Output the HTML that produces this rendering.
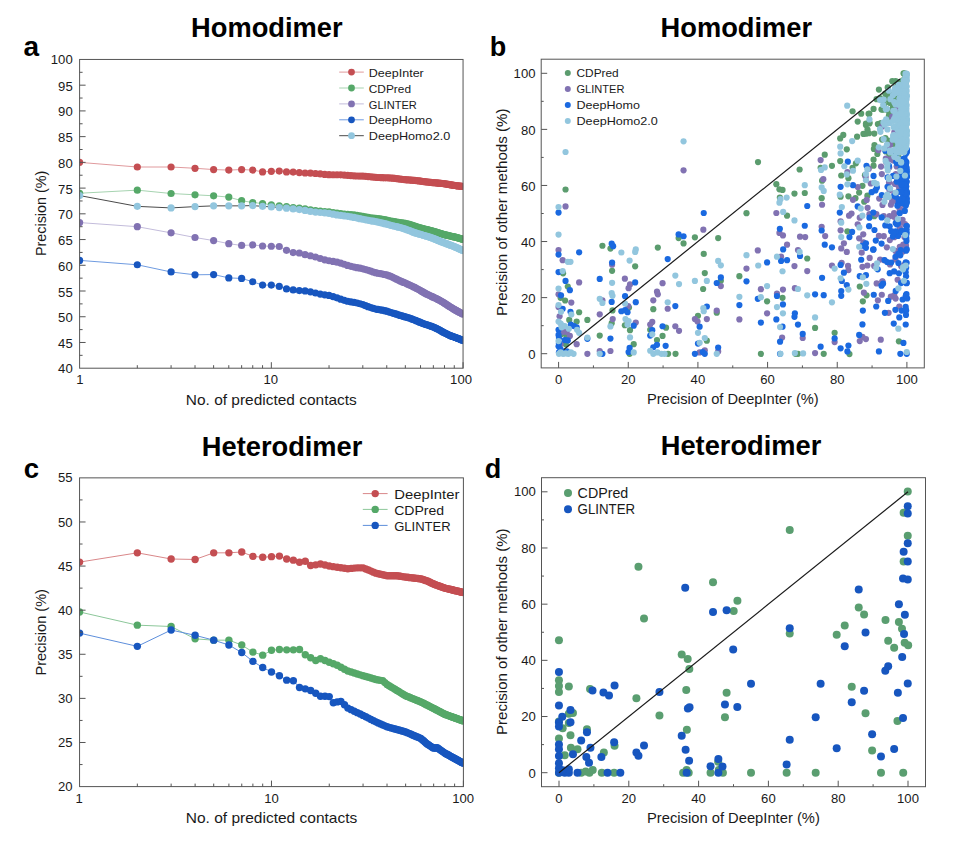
<!DOCTYPE html>
<html lang="en"><head><meta charset="utf-8"><title>Figure</title>
<style>html,body{margin:0;padding:0;background:#fff}svg{display:block}</style></head>
<body>
<svg width="971" height="856" viewBox="0 0 971 856" font-family="'Liberation Sans', Arial, Helvetica, sans-serif">
<rect width="971" height="856" fill="#ffffff"/>
<text x="266.8" y="36.9" font-size="28" text-anchor="middle" fill="#000" font-weight="bold" textLength="151.5" lengthAdjust="spacingAndGlyphs">Homodimer</text>
<text x="736.3" y="36.9" font-size="28" text-anchor="middle" fill="#000" font-weight="bold" textLength="151.5" lengthAdjust="spacingAndGlyphs">Homodimer</text>
<text x="282.1" y="455.7" font-size="27.5" text-anchor="middle" fill="#000" font-weight="bold" textLength="160.5" lengthAdjust="spacingAndGlyphs">Heterodimer</text>
<text x="741" y="454.6" font-size="27.5" text-anchor="middle" fill="#000" font-weight="bold" textLength="160.5" lengthAdjust="spacingAndGlyphs">Heterodimer</text>
<text x="23.5" y="55.8" font-size="28" text-anchor="start" fill="#000" font-weight="bold">a</text>
<text x="489.8" y="55.5" font-size="27" text-anchor="start" fill="#000" font-weight="bold">b</text>
<text x="23.8" y="477.9" font-size="27.5" text-anchor="start" fill="#000" font-weight="bold">c</text>
<text x="484.8" y="477.6" font-size="27" text-anchor="start" fill="#000" font-weight="bold">d</text>
<clipPath id="clipa"><rect x="79.6" y="59.45" width="383.45" height="308.75"/></clipPath>
<g clip-path="url(#clipa)">
<path d="M79.6 162.37 L137.31 167 L171.08 167 L195.03 168.28 L213.61 169.57 L228.79 170.09 L241.63 169.57 L252.74 170.09 L262.55 171.89 L271.33 171.37 L279.26 171.11 L286.51 171.89 L293.17 172.06 L299.34 172.62 L305.09 172.99 L310.46 173.22 L315.51 173.51 L320.27 173.95 L324.77 174.39 L329.04 174.67 L333.1 174.74 L336.98 174.76 L340.68 174.86 L344.22 175.08 L347.62 175.37 L350.89 175.65 L354.03 175.87 L357.06 176.01 L359.98 176.09 L362.8 176.18 L365.53 176.34 L368.17 176.55 L370.74 176.79 L373.22 177.05 L375.64 177.29 L377.98 177.48 L380.26 177.61 L382.48 177.69 L384.65 177.73 L386.75 177.76 L388.81 177.87 L390.82 178.01 L392.78 178.17 L394.69 178.37 L396.56 178.6 L398.39 178.83 L400.18 179.07 L401.94 179.29 L403.65 179.5 L405.34 179.67 L406.98 179.83 L408.6 179.97 L410.19 180.09 L411.74 180.21 L413.27 180.33 L414.77 180.46 L416.25 180.6 L417.69 180.75 L419.12 180.92 L420.52 181.1 L421.89 181.29 L423.25 181.48 L424.58 181.67 L425.89 181.85 L427.18 182.02 L428.45 182.18 L429.7 182.31 L430.94 182.43 L432.15 182.53 L433.35 182.62 L434.53 182.74 L435.7 182.85 L436.85 182.95 L437.98 183.05 L439.1 183.16 L440.2 183.26 L441.29 183.38 L442.36 183.5 L443.42 183.63 L444.47 183.77 L445.5 183.92 L446.53 184.08 L447.54 184.24 L448.53 184.41 L449.52 184.58 L450.49 184.74 L451.45 184.91 L452.41 185.07 L453.35 185.23 L454.28 185.38 L455.2 185.52 L456.11 185.65 L457.01 185.78 L457.9 185.89 L458.78 186 L459.65 186.11 L460.51 186.21 L461.37 186.31 L462.21 186.4 L463.05 186.5" fill="none" stroke="#e09a9d" stroke-width="1"/>
<g fill="#c44e52"><circle cx="79.6" cy="162.37" r="3.6"/><circle cx="137.31" cy="167" r="3.6"/><circle cx="171.08" cy="167" r="3.6"/><circle cx="195.03" cy="168.28" r="3.6"/><circle cx="213.61" cy="169.57" r="3.6"/><circle cx="228.79" cy="170.09" r="3.6"/><circle cx="241.63" cy="169.57" r="3.6"/><circle cx="252.74" cy="170.09" r="3.6"/><circle cx="262.55" cy="171.89" r="3.6"/><circle cx="271.33" cy="171.37" r="3.6"/><circle cx="279.26" cy="171.11" r="3.6"/><circle cx="286.51" cy="171.89" r="3.6"/><circle cx="293.17" cy="172.06" r="3.6"/><circle cx="299.34" cy="172.62" r="3.6"/><circle cx="305.09" cy="172.99" r="3.6"/><circle cx="310.46" cy="173.22" r="3.6"/><circle cx="315.51" cy="173.51" r="3.6"/><circle cx="320.27" cy="173.95" r="3.6"/><circle cx="324.77" cy="174.39" r="3.6"/><circle cx="329.04" cy="174.67" r="3.6"/><circle cx="333.1" cy="174.74" r="3.6"/><circle cx="336.98" cy="174.76" r="3.6"/><circle cx="340.68" cy="174.86" r="3.6"/><circle cx="344.22" cy="175.08" r="3.6"/><circle cx="347.62" cy="175.37" r="3.6"/><circle cx="350.89" cy="175.65" r="3.6"/><circle cx="354.03" cy="175.87" r="3.6"/><circle cx="357.06" cy="176.01" r="3.6"/><circle cx="359.98" cy="176.09" r="3.6"/><circle cx="362.8" cy="176.18" r="3.6"/><circle cx="365.53" cy="176.34" r="3.6"/><circle cx="368.17" cy="176.55" r="3.6"/><circle cx="370.74" cy="176.79" r="3.6"/><circle cx="373.22" cy="177.05" r="3.6"/><circle cx="375.64" cy="177.29" r="3.6"/><circle cx="377.98" cy="177.48" r="3.6"/><circle cx="380.26" cy="177.61" r="3.6"/><circle cx="382.48" cy="177.69" r="3.6"/><circle cx="384.65" cy="177.73" r="3.6"/><circle cx="386.75" cy="177.76" r="3.6"/><circle cx="388.81" cy="177.87" r="3.6"/><circle cx="390.82" cy="178.01" r="3.6"/><circle cx="392.78" cy="178.17" r="3.6"/><circle cx="394.69" cy="178.37" r="3.6"/><circle cx="396.56" cy="178.6" r="3.6"/><circle cx="398.39" cy="178.83" r="3.6"/><circle cx="400.18" cy="179.07" r="3.6"/><circle cx="401.94" cy="179.29" r="3.6"/><circle cx="403.65" cy="179.5" r="3.6"/><circle cx="405.34" cy="179.67" r="3.6"/><circle cx="406.98" cy="179.83" r="3.6"/><circle cx="408.6" cy="179.97" r="3.6"/><circle cx="410.19" cy="180.09" r="3.6"/><circle cx="411.74" cy="180.21" r="3.6"/><circle cx="413.27" cy="180.33" r="3.6"/><circle cx="414.77" cy="180.46" r="3.6"/><circle cx="416.25" cy="180.6" r="3.6"/><circle cx="417.69" cy="180.75" r="3.6"/><circle cx="419.12" cy="180.92" r="3.6"/><circle cx="420.52" cy="181.1" r="3.6"/><circle cx="421.89" cy="181.29" r="3.6"/><circle cx="423.25" cy="181.48" r="3.6"/><circle cx="424.58" cy="181.67" r="3.6"/><circle cx="425.89" cy="181.85" r="3.6"/><circle cx="427.18" cy="182.02" r="3.6"/><circle cx="428.45" cy="182.18" r="3.6"/><circle cx="429.7" cy="182.31" r="3.6"/><circle cx="430.94" cy="182.43" r="3.6"/><circle cx="432.15" cy="182.53" r="3.6"/><circle cx="433.35" cy="182.62" r="3.6"/><circle cx="434.53" cy="182.74" r="3.6"/><circle cx="435.7" cy="182.85" r="3.6"/><circle cx="436.85" cy="182.95" r="3.6"/><circle cx="437.98" cy="183.05" r="3.6"/><circle cx="439.1" cy="183.16" r="3.6"/><circle cx="440.2" cy="183.26" r="3.6"/><circle cx="441.29" cy="183.38" r="3.6"/><circle cx="442.36" cy="183.5" r="3.6"/><circle cx="443.42" cy="183.63" r="3.6"/><circle cx="444.47" cy="183.77" r="3.6"/><circle cx="445.5" cy="183.92" r="3.6"/><circle cx="446.53" cy="184.08" r="3.6"/><circle cx="447.54" cy="184.24" r="3.6"/><circle cx="448.53" cy="184.41" r="3.6"/><circle cx="449.52" cy="184.58" r="3.6"/><circle cx="450.49" cy="184.74" r="3.6"/><circle cx="451.45" cy="184.91" r="3.6"/><circle cx="452.41" cy="185.07" r="3.6"/><circle cx="453.35" cy="185.23" r="3.6"/><circle cx="454.28" cy="185.38" r="3.6"/><circle cx="455.2" cy="185.52" r="3.6"/><circle cx="456.11" cy="185.65" r="3.6"/><circle cx="457.01" cy="185.78" r="3.6"/><circle cx="457.9" cy="185.89" r="3.6"/><circle cx="458.78" cy="186" r="3.6"/><circle cx="459.65" cy="186.11" r="3.6"/><circle cx="460.51" cy="186.21" r="3.6"/><circle cx="461.37" cy="186.31" r="3.6"/><circle cx="462.21" cy="186.4" r="3.6"/><circle cx="463.05" cy="186.5" r="3.6"/></g>
<path d="M79.6 193.24 L137.31 190.15 L171.08 193.5 L195.03 194.79 L213.61 195.81 L228.79 197.1 L241.63 200.7 L252.74 202.5 L262.55 203.53 L271.33 204.82 L279.26 205.76 L286.51 206.62 L293.17 207.66 L299.34 208.21 L305.09 208.9 L310.46 209.75 L315.51 210.59 L320.27 211.17 L324.77 211.56 L329.04 211.96 L333.1 212.54 L336.98 213.16 L340.68 213.72 L344.22 214.13 L347.62 214.41 L350.89 214.66 L354.03 214.96 L357.06 215.36 L359.98 215.85 L362.8 216.37 L365.53 216.92 L368.17 217.39 L370.74 217.77 L373.22 218.09 L375.64 218.37 L377.98 218.65 L380.26 218.96 L382.48 219.31 L384.65 219.68 L386.75 220.07 L388.81 220.54 L390.82 220.98 L392.78 221.37 L394.69 221.72 L396.56 222.01 L398.39 222.28 L400.18 222.52 L401.94 222.77 L403.65 223.03 L405.34 223.31 L406.98 223.75 L408.6 224.22 L410.19 224.7 L411.74 225.2 L413.27 225.71 L414.77 226.2 L416.25 226.68 L417.69 227.13 L419.12 227.56 L420.52 227.96 L421.89 228.33 L423.25 228.68 L424.58 229.01 L425.89 229.33 L427.18 229.64 L428.45 229.96 L429.7 230.27 L430.94 230.6 L432.15 230.93 L433.35 231.27 L434.53 231.62 L435.7 231.97 L436.85 232.33 L437.98 232.68 L439.1 233.04 L440.2 233.38 L441.29 233.71 L442.36 234.03 L443.42 234.33 L444.47 234.62 L445.5 234.89 L446.53 235.15 L447.54 235.39 L448.53 235.63 L449.52 235.85 L450.49 236.06 L451.45 236.27 L452.41 236.48 L453.35 236.69 L454.28 236.91 L455.2 237.13 L456.11 237.35 L457.01 237.58 L457.9 237.82 L458.78 238.07 L459.65 238.32 L460.51 238.58 L461.37 238.85 L462.21 239.12 L463.05 239.39" fill="none" stroke="#a6d3b0" stroke-width="1"/>
<g fill="#55a868"><circle cx="79.6" cy="193.24" r="3.6"/><circle cx="137.31" cy="190.15" r="3.6"/><circle cx="171.08" cy="193.5" r="3.6"/><circle cx="195.03" cy="194.79" r="3.6"/><circle cx="213.61" cy="195.81" r="3.6"/><circle cx="228.79" cy="197.1" r="3.6"/><circle cx="241.63" cy="200.7" r="3.6"/><circle cx="252.74" cy="202.5" r="3.6"/><circle cx="262.55" cy="203.53" r="3.6"/><circle cx="271.33" cy="204.82" r="3.6"/><circle cx="279.26" cy="205.76" r="3.6"/><circle cx="286.51" cy="206.62" r="3.6"/><circle cx="293.17" cy="207.66" r="3.6"/><circle cx="299.34" cy="208.21" r="3.6"/><circle cx="305.09" cy="208.9" r="3.6"/><circle cx="310.46" cy="209.75" r="3.6"/><circle cx="315.51" cy="210.59" r="3.6"/><circle cx="320.27" cy="211.17" r="3.6"/><circle cx="324.77" cy="211.56" r="3.6"/><circle cx="329.04" cy="211.96" r="3.6"/><circle cx="333.1" cy="212.54" r="3.6"/><circle cx="336.98" cy="213.16" r="3.6"/><circle cx="340.68" cy="213.72" r="3.6"/><circle cx="344.22" cy="214.13" r="3.6"/><circle cx="347.62" cy="214.41" r="3.6"/><circle cx="350.89" cy="214.66" r="3.6"/><circle cx="354.03" cy="214.96" r="3.6"/><circle cx="357.06" cy="215.36" r="3.6"/><circle cx="359.98" cy="215.85" r="3.6"/><circle cx="362.8" cy="216.37" r="3.6"/><circle cx="365.53" cy="216.92" r="3.6"/><circle cx="368.17" cy="217.39" r="3.6"/><circle cx="370.74" cy="217.77" r="3.6"/><circle cx="373.22" cy="218.09" r="3.6"/><circle cx="375.64" cy="218.37" r="3.6"/><circle cx="377.98" cy="218.65" r="3.6"/><circle cx="380.26" cy="218.96" r="3.6"/><circle cx="382.48" cy="219.31" r="3.6"/><circle cx="384.65" cy="219.68" r="3.6"/><circle cx="386.75" cy="220.07" r="3.6"/><circle cx="388.81" cy="220.54" r="3.6"/><circle cx="390.82" cy="220.98" r="3.6"/><circle cx="392.78" cy="221.37" r="3.6"/><circle cx="394.69" cy="221.72" r="3.6"/><circle cx="396.56" cy="222.01" r="3.6"/><circle cx="398.39" cy="222.28" r="3.6"/><circle cx="400.18" cy="222.52" r="3.6"/><circle cx="401.94" cy="222.77" r="3.6"/><circle cx="403.65" cy="223.03" r="3.6"/><circle cx="405.34" cy="223.31" r="3.6"/><circle cx="406.98" cy="223.75" r="3.6"/><circle cx="408.6" cy="224.22" r="3.6"/><circle cx="410.19" cy="224.7" r="3.6"/><circle cx="411.74" cy="225.2" r="3.6"/><circle cx="413.27" cy="225.71" r="3.6"/><circle cx="414.77" cy="226.2" r="3.6"/><circle cx="416.25" cy="226.68" r="3.6"/><circle cx="417.69" cy="227.13" r="3.6"/><circle cx="419.12" cy="227.56" r="3.6"/><circle cx="420.52" cy="227.96" r="3.6"/><circle cx="421.89" cy="228.33" r="3.6"/><circle cx="423.25" cy="228.68" r="3.6"/><circle cx="424.58" cy="229.01" r="3.6"/><circle cx="425.89" cy="229.33" r="3.6"/><circle cx="427.18" cy="229.64" r="3.6"/><circle cx="428.45" cy="229.96" r="3.6"/><circle cx="429.7" cy="230.27" r="3.6"/><circle cx="430.94" cy="230.6" r="3.6"/><circle cx="432.15" cy="230.93" r="3.6"/><circle cx="433.35" cy="231.27" r="3.6"/><circle cx="434.53" cy="231.62" r="3.6"/><circle cx="435.7" cy="231.97" r="3.6"/><circle cx="436.85" cy="232.33" r="3.6"/><circle cx="437.98" cy="232.68" r="3.6"/><circle cx="439.1" cy="233.04" r="3.6"/><circle cx="440.2" cy="233.38" r="3.6"/><circle cx="441.29" cy="233.71" r="3.6"/><circle cx="442.36" cy="234.03" r="3.6"/><circle cx="443.42" cy="234.33" r="3.6"/><circle cx="444.47" cy="234.62" r="3.6"/><circle cx="445.5" cy="234.89" r="3.6"/><circle cx="446.53" cy="235.15" r="3.6"/><circle cx="447.54" cy="235.39" r="3.6"/><circle cx="448.53" cy="235.63" r="3.6"/><circle cx="449.52" cy="235.85" r="3.6"/><circle cx="450.49" cy="236.06" r="3.6"/><circle cx="451.45" cy="236.27" r="3.6"/><circle cx="452.41" cy="236.48" r="3.6"/><circle cx="453.35" cy="236.69" r="3.6"/><circle cx="454.28" cy="236.91" r="3.6"/><circle cx="455.2" cy="237.13" r="3.6"/><circle cx="456.11" cy="237.35" r="3.6"/><circle cx="457.01" cy="237.58" r="3.6"/><circle cx="457.9" cy="237.82" r="3.6"/><circle cx="458.78" cy="238.07" r="3.6"/><circle cx="459.65" cy="238.32" r="3.6"/><circle cx="460.51" cy="238.58" r="3.6"/><circle cx="461.37" cy="238.85" r="3.6"/><circle cx="462.21" cy="239.12" r="3.6"/><circle cx="463.05" cy="239.39" r="3.6"/></g>
<path d="M79.6 222.57 L137.31 226.69 L171.08 232.86 L195.03 237.5 L213.61 240.58 L228.79 243.67 L241.63 245.47 L252.74 244.96 L262.55 245.99 L271.33 246.24 L279.26 246.5 L286.51 250.36 L293.17 252.53 L299.34 253 L305.09 254.7 L310.46 255.74 L315.51 257 L320.27 258.52 L324.77 259.82 L329.04 260.75 L333.1 261.4 L336.98 262.13 L340.68 263.1 L344.22 264.25 L347.62 265.41 L350.89 266.36 L354.03 267.11 L357.06 267.69 L359.98 268.22 L362.8 268.79 L365.53 269.54 L368.17 270.36 L370.74 271.2 L373.22 271.98 L375.64 272.67 L377.98 273.24 L380.26 273.7 L382.48 274.09 L384.65 274.48 L386.75 274.89 L388.81 275.64 L390.82 276.45 L392.78 277.33 L394.69 278.24 L396.56 279.16 L398.39 280.05 L400.18 280.9 L401.94 281.69 L403.65 282.4 L405.34 283.06 L406.98 283.83 L408.6 284.57 L410.19 285.29 L411.74 286 L413.27 286.73 L414.77 287.47 L416.25 288.23 L417.69 289.02 L419.12 289.81 L420.52 290.6 L421.89 291.41 L423.25 292.19 L424.58 292.94 L425.89 293.66 L427.18 294.33 L428.45 294.97 L429.7 295.56 L430.94 296.12 L432.15 296.66 L433.35 297.17 L434.53 297.73 L435.7 298.29 L436.85 298.85 L437.98 299.42 L439.1 300.01 L440.2 300.61 L441.29 301.23 L442.36 301.86 L443.42 302.51 L444.47 303.17 L445.5 303.83 L446.53 304.5 L447.54 305.17 L448.53 305.83 L449.52 306.48 L450.49 307.11 L451.45 307.72 L452.41 308.31 L453.35 308.88 L454.28 309.43 L455.2 309.96 L456.11 310.47 L457.01 310.96 L457.9 311.43 L458.78 311.9 L459.65 312.35 L460.51 312.79 L461.37 313.23 L462.21 313.67 L463.05 314.12" fill="none" stroke="#c3bcdb" stroke-width="1"/>
<g fill="#8172b2"><circle cx="79.6" cy="222.57" r="3.6"/><circle cx="137.31" cy="226.69" r="3.6"/><circle cx="171.08" cy="232.86" r="3.6"/><circle cx="195.03" cy="237.5" r="3.6"/><circle cx="213.61" cy="240.58" r="3.6"/><circle cx="228.79" cy="243.67" r="3.6"/><circle cx="241.63" cy="245.47" r="3.6"/><circle cx="252.74" cy="244.96" r="3.6"/><circle cx="262.55" cy="245.99" r="3.6"/><circle cx="271.33" cy="246.24" r="3.6"/><circle cx="279.26" cy="246.5" r="3.6"/><circle cx="286.51" cy="250.36" r="3.6"/><circle cx="293.17" cy="252.53" r="3.6"/><circle cx="299.34" cy="253" r="3.6"/><circle cx="305.09" cy="254.7" r="3.6"/><circle cx="310.46" cy="255.74" r="3.6"/><circle cx="315.51" cy="257" r="3.6"/><circle cx="320.27" cy="258.52" r="3.6"/><circle cx="324.77" cy="259.82" r="3.6"/><circle cx="329.04" cy="260.75" r="3.6"/><circle cx="333.1" cy="261.4" r="3.6"/><circle cx="336.98" cy="262.13" r="3.6"/><circle cx="340.68" cy="263.1" r="3.6"/><circle cx="344.22" cy="264.25" r="3.6"/><circle cx="347.62" cy="265.41" r="3.6"/><circle cx="350.89" cy="266.36" r="3.6"/><circle cx="354.03" cy="267.11" r="3.6"/><circle cx="357.06" cy="267.69" r="3.6"/><circle cx="359.98" cy="268.22" r="3.6"/><circle cx="362.8" cy="268.79" r="3.6"/><circle cx="365.53" cy="269.54" r="3.6"/><circle cx="368.17" cy="270.36" r="3.6"/><circle cx="370.74" cy="271.2" r="3.6"/><circle cx="373.22" cy="271.98" r="3.6"/><circle cx="375.64" cy="272.67" r="3.6"/><circle cx="377.98" cy="273.24" r="3.6"/><circle cx="380.26" cy="273.7" r="3.6"/><circle cx="382.48" cy="274.09" r="3.6"/><circle cx="384.65" cy="274.48" r="3.6"/><circle cx="386.75" cy="274.89" r="3.6"/><circle cx="388.81" cy="275.64" r="3.6"/><circle cx="390.82" cy="276.45" r="3.6"/><circle cx="392.78" cy="277.33" r="3.6"/><circle cx="394.69" cy="278.24" r="3.6"/><circle cx="396.56" cy="279.16" r="3.6"/><circle cx="398.39" cy="280.05" r="3.6"/><circle cx="400.18" cy="280.9" r="3.6"/><circle cx="401.94" cy="281.69" r="3.6"/><circle cx="403.65" cy="282.4" r="3.6"/><circle cx="405.34" cy="283.06" r="3.6"/><circle cx="406.98" cy="283.83" r="3.6"/><circle cx="408.6" cy="284.57" r="3.6"/><circle cx="410.19" cy="285.29" r="3.6"/><circle cx="411.74" cy="286" r="3.6"/><circle cx="413.27" cy="286.73" r="3.6"/><circle cx="414.77" cy="287.47" r="3.6"/><circle cx="416.25" cy="288.23" r="3.6"/><circle cx="417.69" cy="289.02" r="3.6"/><circle cx="419.12" cy="289.81" r="3.6"/><circle cx="420.52" cy="290.6" r="3.6"/><circle cx="421.89" cy="291.41" r="3.6"/><circle cx="423.25" cy="292.19" r="3.6"/><circle cx="424.58" cy="292.94" r="3.6"/><circle cx="425.89" cy="293.66" r="3.6"/><circle cx="427.18" cy="294.33" r="3.6"/><circle cx="428.45" cy="294.97" r="3.6"/><circle cx="429.7" cy="295.56" r="3.6"/><circle cx="430.94" cy="296.12" r="3.6"/><circle cx="432.15" cy="296.66" r="3.6"/><circle cx="433.35" cy="297.17" r="3.6"/><circle cx="434.53" cy="297.73" r="3.6"/><circle cx="435.7" cy="298.29" r="3.6"/><circle cx="436.85" cy="298.85" r="3.6"/><circle cx="437.98" cy="299.42" r="3.6"/><circle cx="439.1" cy="300.01" r="3.6"/><circle cx="440.2" cy="300.61" r="3.6"/><circle cx="441.29" cy="301.23" r="3.6"/><circle cx="442.36" cy="301.86" r="3.6"/><circle cx="443.42" cy="302.51" r="3.6"/><circle cx="444.47" cy="303.17" r="3.6"/><circle cx="445.5" cy="303.83" r="3.6"/><circle cx="446.53" cy="304.5" r="3.6"/><circle cx="447.54" cy="305.17" r="3.6"/><circle cx="448.53" cy="305.83" r="3.6"/><circle cx="449.52" cy="306.48" r="3.6"/><circle cx="450.49" cy="307.11" r="3.6"/><circle cx="451.45" cy="307.72" r="3.6"/><circle cx="452.41" cy="308.31" r="3.6"/><circle cx="453.35" cy="308.88" r="3.6"/><circle cx="454.28" cy="309.43" r="3.6"/><circle cx="455.2" cy="309.96" r="3.6"/><circle cx="456.11" cy="310.47" r="3.6"/><circle cx="457.01" cy="310.96" r="3.6"/><circle cx="457.9" cy="311.43" r="3.6"/><circle cx="458.78" cy="311.9" r="3.6"/><circle cx="459.65" cy="312.35" r="3.6"/><circle cx="460.51" cy="312.79" r="3.6"/><circle cx="461.37" cy="313.23" r="3.6"/><circle cx="462.21" cy="313.67" r="3.6"/><circle cx="463.05" cy="314.12" r="3.6"/></g>
<path d="M79.6 260.39 L137.31 264.77 L171.08 271.97 L195.03 274.8 L213.61 274.55 L228.79 277.89 L241.63 278.41 L252.74 281.75 L262.55 285.09 L271.33 285.09 L279.26 286.38 L286.51 288.95 L293.17 289.95 L299.34 290.61 L305.09 290.96 L310.46 291.82 L315.51 293 L320.27 294.1 L324.77 294.85 L329.04 295.46 L333.1 296.55 L336.98 297.84 L340.68 299.17 L344.22 300.34 L347.62 301.23 L350.89 301.88 L354.03 302.43 L357.06 303.02 L359.98 303.75 L362.8 304.59 L365.53 305.63 L368.17 306.64 L370.74 307.56 L373.22 308.35 L375.64 309.04 L377.98 309.41 L380.26 309.78 L382.48 310.19 L384.65 310.66 L386.75 311.21 L388.81 311.85 L390.82 312.5 L392.78 313.12 L394.69 313.68 L396.56 314.16 L398.39 314.83 L400.18 315.42 L401.94 315.95 L403.65 316.44 L405.34 316.92 L406.98 317.37 L408.6 317.85 L410.19 318.36 L411.74 318.91 L413.27 319.49 L414.77 320.1 L416.25 320.71 L417.69 321.32 L419.12 321.9 L420.52 322.46 L421.89 323.03 L423.25 323.55 L424.58 324.04 L425.89 324.49 L427.18 324.93 L428.45 325.34 L429.7 325.75 L430.94 326.16 L432.15 326.57 L433.35 327 L434.53 327.55 L435.7 328.1 L436.85 328.68 L437.98 329.27 L439.1 329.86 L440.2 330.47 L441.29 331.07 L442.36 331.66 L443.42 332.24 L444.47 332.8 L445.5 333.34 L446.53 333.86 L447.54 334.35 L448.53 334.81 L449.52 335.24 L450.49 335.65 L451.45 336.03 L452.41 336.4 L453.35 336.75 L454.28 337.09 L455.2 337.42 L456.11 337.75 L457.01 338.08 L457.9 338.41 L458.78 338.75 L459.65 339.1 L460.51 339.46 L461.37 339.82 L462.21 340.2 L463.05 340.59" fill="none" stroke="#6f9be0" stroke-width="1"/>
<g fill="#1756bf"><circle cx="79.6" cy="260.39" r="3.6"/><circle cx="137.31" cy="264.77" r="3.6"/><circle cx="171.08" cy="271.97" r="3.6"/><circle cx="195.03" cy="274.8" r="3.6"/><circle cx="213.61" cy="274.55" r="3.6"/><circle cx="228.79" cy="277.89" r="3.6"/><circle cx="241.63" cy="278.41" r="3.6"/><circle cx="252.74" cy="281.75" r="3.6"/><circle cx="262.55" cy="285.09" r="3.6"/><circle cx="271.33" cy="285.09" r="3.6"/><circle cx="279.26" cy="286.38" r="3.6"/><circle cx="286.51" cy="288.95" r="3.6"/><circle cx="293.17" cy="289.95" r="3.6"/><circle cx="299.34" cy="290.61" r="3.6"/><circle cx="305.09" cy="290.96" r="3.6"/><circle cx="310.46" cy="291.82" r="3.6"/><circle cx="315.51" cy="293" r="3.6"/><circle cx="320.27" cy="294.1" r="3.6"/><circle cx="324.77" cy="294.85" r="3.6"/><circle cx="329.04" cy="295.46" r="3.6"/><circle cx="333.1" cy="296.55" r="3.6"/><circle cx="336.98" cy="297.84" r="3.6"/><circle cx="340.68" cy="299.17" r="3.6"/><circle cx="344.22" cy="300.34" r="3.6"/><circle cx="347.62" cy="301.23" r="3.6"/><circle cx="350.89" cy="301.88" r="3.6"/><circle cx="354.03" cy="302.43" r="3.6"/><circle cx="357.06" cy="303.02" r="3.6"/><circle cx="359.98" cy="303.75" r="3.6"/><circle cx="362.8" cy="304.59" r="3.6"/><circle cx="365.53" cy="305.63" r="3.6"/><circle cx="368.17" cy="306.64" r="3.6"/><circle cx="370.74" cy="307.56" r="3.6"/><circle cx="373.22" cy="308.35" r="3.6"/><circle cx="375.64" cy="309.04" r="3.6"/><circle cx="377.98" cy="309.41" r="3.6"/><circle cx="380.26" cy="309.78" r="3.6"/><circle cx="382.48" cy="310.19" r="3.6"/><circle cx="384.65" cy="310.66" r="3.6"/><circle cx="386.75" cy="311.21" r="3.6"/><circle cx="388.81" cy="311.85" r="3.6"/><circle cx="390.82" cy="312.5" r="3.6"/><circle cx="392.78" cy="313.12" r="3.6"/><circle cx="394.69" cy="313.68" r="3.6"/><circle cx="396.56" cy="314.16" r="3.6"/><circle cx="398.39" cy="314.83" r="3.6"/><circle cx="400.18" cy="315.42" r="3.6"/><circle cx="401.94" cy="315.95" r="3.6"/><circle cx="403.65" cy="316.44" r="3.6"/><circle cx="405.34" cy="316.92" r="3.6"/><circle cx="406.98" cy="317.37" r="3.6"/><circle cx="408.6" cy="317.85" r="3.6"/><circle cx="410.19" cy="318.36" r="3.6"/><circle cx="411.74" cy="318.91" r="3.6"/><circle cx="413.27" cy="319.49" r="3.6"/><circle cx="414.77" cy="320.1" r="3.6"/><circle cx="416.25" cy="320.71" r="3.6"/><circle cx="417.69" cy="321.32" r="3.6"/><circle cx="419.12" cy="321.9" r="3.6"/><circle cx="420.52" cy="322.46" r="3.6"/><circle cx="421.89" cy="323.03" r="3.6"/><circle cx="423.25" cy="323.55" r="3.6"/><circle cx="424.58" cy="324.04" r="3.6"/><circle cx="425.89" cy="324.49" r="3.6"/><circle cx="427.18" cy="324.93" r="3.6"/><circle cx="428.45" cy="325.34" r="3.6"/><circle cx="429.7" cy="325.75" r="3.6"/><circle cx="430.94" cy="326.16" r="3.6"/><circle cx="432.15" cy="326.57" r="3.6"/><circle cx="433.35" cy="327" r="3.6"/><circle cx="434.53" cy="327.55" r="3.6"/><circle cx="435.7" cy="328.1" r="3.6"/><circle cx="436.85" cy="328.68" r="3.6"/><circle cx="437.98" cy="329.27" r="3.6"/><circle cx="439.1" cy="329.86" r="3.6"/><circle cx="440.2" cy="330.47" r="3.6"/><circle cx="441.29" cy="331.07" r="3.6"/><circle cx="442.36" cy="331.66" r="3.6"/><circle cx="443.42" cy="332.24" r="3.6"/><circle cx="444.47" cy="332.8" r="3.6"/><circle cx="445.5" cy="333.34" r="3.6"/><circle cx="446.53" cy="333.86" r="3.6"/><circle cx="447.54" cy="334.35" r="3.6"/><circle cx="448.53" cy="334.81" r="3.6"/><circle cx="449.52" cy="335.24" r="3.6"/><circle cx="450.49" cy="335.65" r="3.6"/><circle cx="451.45" cy="336.03" r="3.6"/><circle cx="452.41" cy="336.4" r="3.6"/><circle cx="453.35" cy="336.75" r="3.6"/><circle cx="454.28" cy="337.09" r="3.6"/><circle cx="455.2" cy="337.42" r="3.6"/><circle cx="456.11" cy="337.75" r="3.6"/><circle cx="457.01" cy="338.08" r="3.6"/><circle cx="457.9" cy="338.41" r="3.6"/><circle cx="458.78" cy="338.75" r="3.6"/><circle cx="459.65" cy="339.1" r="3.6"/><circle cx="460.51" cy="339.46" r="3.6"/><circle cx="461.37" cy="339.82" r="3.6"/><circle cx="462.21" cy="340.2" r="3.6"/><circle cx="463.05" cy="340.59" r="3.6"/></g>
<path d="M79.6 195.56 L137.31 206.36 L171.08 207.91 L195.03 206.62 L213.61 205.85 L228.79 205.85 L241.63 205.85 L252.74 205.59 L262.55 206.36 L271.33 206.88 L279.26 207.55 L286.51 208.16 L293.17 208.93 L299.34 209.56 L305.09 210.46 L310.46 211.43 L315.51 212.1 L320.27 212.5 L324.77 212.88 L329.04 213.4 L333.1 214.17 L336.98 214.89 L340.68 215.47 L344.22 215.93 L347.62 216.36 L350.89 216.85 L354.03 217.42 L357.06 218.06 L359.98 218.69 L362.8 219.25 L365.53 219.86 L368.17 220.36 L370.74 220.79 L373.22 221.19 L375.64 221.61 L377.98 222.07 L380.26 222.57 L382.48 223.1 L384.65 223.64 L386.75 224.15 L388.81 224.75 L390.82 225.3 L392.78 225.81 L394.69 226.27 L396.56 226.72 L398.39 227.16 L400.18 227.61 L401.94 228.09 L403.65 228.58 L405.34 229.1 L406.98 229.73 L408.6 230.35 L410.19 230.97 L411.74 231.57 L413.27 232.14 L414.77 232.67 L416.25 233.17 L417.69 233.63 L419.12 234.07 L420.52 234.47 L421.89 234.86 L423.25 235.24 L424.58 235.61 L425.89 235.99 L427.18 236.38 L428.45 236.77 L429.7 237.17 L430.94 237.59 L432.15 238.01 L433.35 238.43 L434.53 238.94 L435.7 239.44 L436.85 239.93 L437.98 240.41 L439.1 240.88 L440.2 241.33 L441.29 241.76 L442.36 242.18 L443.42 242.58 L444.47 242.97 L445.5 243.34 L446.53 243.71 L447.54 244.07 L448.53 244.43 L449.52 244.78 L450.49 245.14 L451.45 245.5 L452.41 245.87 L453.35 246.25 L454.28 246.62 L455.2 247.01 L456.11 247.4 L457.01 247.79 L457.9 248.19 L458.78 248.59 L459.65 248.99 L460.51 249.38 L461.37 249.77 L462.21 250.16 L463.05 250.54" fill="none" stroke="#4a4a4a" stroke-width="1"/>
<g fill="#92c6de"><circle cx="79.6" cy="195.56" r="3.6"/><circle cx="137.31" cy="206.36" r="3.6"/><circle cx="171.08" cy="207.91" r="3.6"/><circle cx="195.03" cy="206.62" r="3.6"/><circle cx="213.61" cy="205.85" r="3.6"/><circle cx="228.79" cy="205.85" r="3.6"/><circle cx="241.63" cy="205.85" r="3.6"/><circle cx="252.74" cy="205.59" r="3.6"/><circle cx="262.55" cy="206.36" r="3.6"/><circle cx="271.33" cy="206.88" r="3.6"/><circle cx="279.26" cy="207.55" r="3.6"/><circle cx="286.51" cy="208.16" r="3.6"/><circle cx="293.17" cy="208.93" r="3.6"/><circle cx="299.34" cy="209.56" r="3.6"/><circle cx="305.09" cy="210.46" r="3.6"/><circle cx="310.46" cy="211.43" r="3.6"/><circle cx="315.51" cy="212.1" r="3.6"/><circle cx="320.27" cy="212.5" r="3.6"/><circle cx="324.77" cy="212.88" r="3.6"/><circle cx="329.04" cy="213.4" r="3.6"/><circle cx="333.1" cy="214.17" r="3.6"/><circle cx="336.98" cy="214.89" r="3.6"/><circle cx="340.68" cy="215.47" r="3.6"/><circle cx="344.22" cy="215.93" r="3.6"/><circle cx="347.62" cy="216.36" r="3.6"/><circle cx="350.89" cy="216.85" r="3.6"/><circle cx="354.03" cy="217.42" r="3.6"/><circle cx="357.06" cy="218.06" r="3.6"/><circle cx="359.98" cy="218.69" r="3.6"/><circle cx="362.8" cy="219.25" r="3.6"/><circle cx="365.53" cy="219.86" r="3.6"/><circle cx="368.17" cy="220.36" r="3.6"/><circle cx="370.74" cy="220.79" r="3.6"/><circle cx="373.22" cy="221.19" r="3.6"/><circle cx="375.64" cy="221.61" r="3.6"/><circle cx="377.98" cy="222.07" r="3.6"/><circle cx="380.26" cy="222.57" r="3.6"/><circle cx="382.48" cy="223.1" r="3.6"/><circle cx="384.65" cy="223.64" r="3.6"/><circle cx="386.75" cy="224.15" r="3.6"/><circle cx="388.81" cy="224.75" r="3.6"/><circle cx="390.82" cy="225.3" r="3.6"/><circle cx="392.78" cy="225.81" r="3.6"/><circle cx="394.69" cy="226.27" r="3.6"/><circle cx="396.56" cy="226.72" r="3.6"/><circle cx="398.39" cy="227.16" r="3.6"/><circle cx="400.18" cy="227.61" r="3.6"/><circle cx="401.94" cy="228.09" r="3.6"/><circle cx="403.65" cy="228.58" r="3.6"/><circle cx="405.34" cy="229.1" r="3.6"/><circle cx="406.98" cy="229.73" r="3.6"/><circle cx="408.6" cy="230.35" r="3.6"/><circle cx="410.19" cy="230.97" r="3.6"/><circle cx="411.74" cy="231.57" r="3.6"/><circle cx="413.27" cy="232.14" r="3.6"/><circle cx="414.77" cy="232.67" r="3.6"/><circle cx="416.25" cy="233.17" r="3.6"/><circle cx="417.69" cy="233.63" r="3.6"/><circle cx="419.12" cy="234.07" r="3.6"/><circle cx="420.52" cy="234.47" r="3.6"/><circle cx="421.89" cy="234.86" r="3.6"/><circle cx="423.25" cy="235.24" r="3.6"/><circle cx="424.58" cy="235.61" r="3.6"/><circle cx="425.89" cy="235.99" r="3.6"/><circle cx="427.18" cy="236.38" r="3.6"/><circle cx="428.45" cy="236.77" r="3.6"/><circle cx="429.7" cy="237.17" r="3.6"/><circle cx="430.94" cy="237.59" r="3.6"/><circle cx="432.15" cy="238.01" r="3.6"/><circle cx="433.35" cy="238.43" r="3.6"/><circle cx="434.53" cy="238.94" r="3.6"/><circle cx="435.7" cy="239.44" r="3.6"/><circle cx="436.85" cy="239.93" r="3.6"/><circle cx="437.98" cy="240.41" r="3.6"/><circle cx="439.1" cy="240.88" r="3.6"/><circle cx="440.2" cy="241.33" r="3.6"/><circle cx="441.29" cy="241.76" r="3.6"/><circle cx="442.36" cy="242.18" r="3.6"/><circle cx="443.42" cy="242.58" r="3.6"/><circle cx="444.47" cy="242.97" r="3.6"/><circle cx="445.5" cy="243.34" r="3.6"/><circle cx="446.53" cy="243.71" r="3.6"/><circle cx="447.54" cy="244.07" r="3.6"/><circle cx="448.53" cy="244.43" r="3.6"/><circle cx="449.52" cy="244.78" r="3.6"/><circle cx="450.49" cy="245.14" r="3.6"/><circle cx="451.45" cy="245.5" r="3.6"/><circle cx="452.41" cy="245.87" r="3.6"/><circle cx="453.35" cy="246.25" r="3.6"/><circle cx="454.28" cy="246.62" r="3.6"/><circle cx="455.2" cy="247.01" r="3.6"/><circle cx="456.11" cy="247.4" r="3.6"/><circle cx="457.01" cy="247.79" r="3.6"/><circle cx="457.9" cy="248.19" r="3.6"/><circle cx="458.78" cy="248.59" r="3.6"/><circle cx="459.65" cy="248.99" r="3.6"/><circle cx="460.51" cy="249.38" r="3.6"/><circle cx="461.37" cy="249.77" r="3.6"/><circle cx="462.21" cy="250.16" r="3.6"/><circle cx="463.05" cy="250.54" r="3.6"/></g>
</g>
<rect x="79.6" y="59.45" width="383.45" height="308.75" fill="none" stroke="#555555" stroke-width="1"/>
<text x="72.7" y="373.1" font-size="12.3" text-anchor="end" fill="#1a1a1a" textLength="14.6" lengthAdjust="spacingAndGlyphs">40</text>
<line x1="79.6" y1="355.34" x2="82.6" y2="355.34" stroke="#555555" stroke-width="1"/>
<line x1="79.6" y1="342.47" x2="85.6" y2="342.47" stroke="#555555" stroke-width="1"/>
<text x="72.7" y="347.97" font-size="12.3" text-anchor="end" fill="#1a1a1a" textLength="14.6" lengthAdjust="spacingAndGlyphs">45</text>
<line x1="79.6" y1="329.61" x2="82.6" y2="329.61" stroke="#555555" stroke-width="1"/>
<line x1="79.6" y1="316.74" x2="85.6" y2="316.74" stroke="#555555" stroke-width="1"/>
<text x="72.7" y="322.24" font-size="12.3" text-anchor="end" fill="#1a1a1a" textLength="14.6" lengthAdjust="spacingAndGlyphs">50</text>
<line x1="79.6" y1="303.88" x2="82.6" y2="303.88" stroke="#555555" stroke-width="1"/>
<line x1="79.6" y1="291.01" x2="85.6" y2="291.01" stroke="#555555" stroke-width="1"/>
<text x="72.7" y="296.51" font-size="12.3" text-anchor="end" fill="#1a1a1a" textLength="14.6" lengthAdjust="spacingAndGlyphs">55</text>
<line x1="79.6" y1="278.15" x2="82.6" y2="278.15" stroke="#555555" stroke-width="1"/>
<line x1="79.6" y1="265.28" x2="85.6" y2="265.28" stroke="#555555" stroke-width="1"/>
<text x="72.7" y="270.78" font-size="12.3" text-anchor="end" fill="#1a1a1a" textLength="14.6" lengthAdjust="spacingAndGlyphs">60</text>
<line x1="79.6" y1="252.42" x2="82.6" y2="252.42" stroke="#555555" stroke-width="1"/>
<line x1="79.6" y1="239.55" x2="85.6" y2="239.55" stroke="#555555" stroke-width="1"/>
<text x="72.7" y="245.05" font-size="12.3" text-anchor="end" fill="#1a1a1a" textLength="14.6" lengthAdjust="spacingAndGlyphs">65</text>
<line x1="79.6" y1="226.69" x2="82.6" y2="226.69" stroke="#555555" stroke-width="1"/>
<line x1="79.6" y1="213.82" x2="85.6" y2="213.82" stroke="#555555" stroke-width="1"/>
<text x="72.7" y="219.32" font-size="12.3" text-anchor="end" fill="#1a1a1a" textLength="14.6" lengthAdjust="spacingAndGlyphs">70</text>
<line x1="79.6" y1="200.96" x2="82.6" y2="200.96" stroke="#555555" stroke-width="1"/>
<line x1="79.6" y1="188.1" x2="85.6" y2="188.1" stroke="#555555" stroke-width="1"/>
<text x="72.7" y="193.6" font-size="12.3" text-anchor="end" fill="#1a1a1a" textLength="14.6" lengthAdjust="spacingAndGlyphs">75</text>
<line x1="79.6" y1="175.23" x2="82.6" y2="175.23" stroke="#555555" stroke-width="1"/>
<line x1="79.6" y1="162.37" x2="85.6" y2="162.37" stroke="#555555" stroke-width="1"/>
<text x="72.7" y="167.87" font-size="12.3" text-anchor="end" fill="#1a1a1a" textLength="14.6" lengthAdjust="spacingAndGlyphs">80</text>
<line x1="79.6" y1="149.5" x2="82.6" y2="149.5" stroke="#555555" stroke-width="1"/>
<line x1="79.6" y1="136.64" x2="85.6" y2="136.64" stroke="#555555" stroke-width="1"/>
<text x="72.7" y="142.14" font-size="12.3" text-anchor="end" fill="#1a1a1a" textLength="14.6" lengthAdjust="spacingAndGlyphs">85</text>
<line x1="79.6" y1="123.77" x2="82.6" y2="123.77" stroke="#555555" stroke-width="1"/>
<line x1="79.6" y1="110.91" x2="85.6" y2="110.91" stroke="#555555" stroke-width="1"/>
<text x="72.7" y="116.41" font-size="12.3" text-anchor="end" fill="#1a1a1a" textLength="14.6" lengthAdjust="spacingAndGlyphs">90</text>
<line x1="79.6" y1="98.04" x2="82.6" y2="98.04" stroke="#555555" stroke-width="1"/>
<line x1="79.6" y1="85.18" x2="85.6" y2="85.18" stroke="#555555" stroke-width="1"/>
<text x="72.7" y="90.68" font-size="12.3" text-anchor="end" fill="#1a1a1a" textLength="14.6" lengthAdjust="spacingAndGlyphs">95</text>
<line x1="79.6" y1="72.31" x2="82.6" y2="72.31" stroke="#555555" stroke-width="1"/>
<text x="72.7" y="63.85" font-size="12.3" text-anchor="end" fill="#1a1a1a" textLength="21.9" lengthAdjust="spacingAndGlyphs">100</text>
<line x1="137.31" y1="368.2" x2="137.31" y2="365.2" stroke="#555555" stroke-width="1"/>
<line x1="171.08" y1="368.2" x2="171.08" y2="365.2" stroke="#555555" stroke-width="1"/>
<line x1="195.03" y1="368.2" x2="195.03" y2="365.2" stroke="#555555" stroke-width="1"/>
<line x1="213.61" y1="368.2" x2="213.61" y2="365.2" stroke="#555555" stroke-width="1"/>
<line x1="228.79" y1="368.2" x2="228.79" y2="365.2" stroke="#555555" stroke-width="1"/>
<line x1="241.63" y1="368.2" x2="241.63" y2="365.2" stroke="#555555" stroke-width="1"/>
<line x1="252.74" y1="368.2" x2="252.74" y2="365.2" stroke="#555555" stroke-width="1"/>
<line x1="262.55" y1="368.2" x2="262.55" y2="365.2" stroke="#555555" stroke-width="1"/>
<line x1="271.33" y1="368.2" x2="271.33" y2="362.2" stroke="#555555" stroke-width="1"/>
<line x1="329.04" y1="368.2" x2="329.04" y2="365.2" stroke="#555555" stroke-width="1"/>
<line x1="362.8" y1="368.2" x2="362.8" y2="365.2" stroke="#555555" stroke-width="1"/>
<line x1="386.75" y1="368.2" x2="386.75" y2="365.2" stroke="#555555" stroke-width="1"/>
<line x1="405.34" y1="368.2" x2="405.34" y2="365.2" stroke="#555555" stroke-width="1"/>
<line x1="420.52" y1="368.2" x2="420.52" y2="365.2" stroke="#555555" stroke-width="1"/>
<line x1="433.35" y1="368.2" x2="433.35" y2="365.2" stroke="#555555" stroke-width="1"/>
<line x1="444.47" y1="368.2" x2="444.47" y2="365.2" stroke="#555555" stroke-width="1"/>
<line x1="454.28" y1="368.2" x2="454.28" y2="365.2" stroke="#555555" stroke-width="1"/>
<line x1="463.05" y1="368.2" x2="463.05" y2="362.2" stroke="#555555" stroke-width="1"/>
<text x="79.9" y="384.1" font-size="12.3" text-anchor="middle" fill="#1a1a1a" textLength="7.3" lengthAdjust="spacingAndGlyphs">1</text>
<text x="270.83" y="384.1" font-size="12.3" text-anchor="middle" fill="#1a1a1a" textLength="14.6" lengthAdjust="spacingAndGlyphs">10</text>
<text x="461.05" y="384.1" font-size="12.3" text-anchor="middle" fill="#1a1a1a" textLength="21.9" lengthAdjust="spacingAndGlyphs">100</text>
<line x1="339.2" y1="72.1" x2="363.8" y2="72.1" stroke="#e09a9d" stroke-width="1"/>
<circle cx="351.5" cy="72.1" r="3.4" fill="#c44e52"/>
<text x="368.8" y="76.7" font-size="11.8" text-anchor="start" fill="#1a1a1a" textLength="55" lengthAdjust="spacingAndGlyphs">DeepInter</text>
<line x1="339.2" y1="88" x2="363.8" y2="88" stroke="#a6d3b0" stroke-width="1"/>
<circle cx="351.5" cy="88" r="3.4" fill="#55a868"/>
<text x="368.8" y="92.6" font-size="11.8" text-anchor="start" fill="#1a1a1a" textLength="42.2" lengthAdjust="spacingAndGlyphs">CDPred</text>
<line x1="339.2" y1="103.9" x2="363.8" y2="103.9" stroke="#c3bcdb" stroke-width="1"/>
<circle cx="351.5" cy="103.9" r="3.4" fill="#8172b2"/>
<text x="368.8" y="108.5" font-size="11.8" text-anchor="start" fill="#1a1a1a" textLength="48" lengthAdjust="spacingAndGlyphs">GLINTER</text>
<line x1="339.2" y1="119.8" x2="363.8" y2="119.8" stroke="#6f9be0" stroke-width="1"/>
<circle cx="351.5" cy="119.8" r="3.4" fill="#1756bf"/>
<text x="368.8" y="124.4" font-size="11.8" text-anchor="start" fill="#1a1a1a" textLength="63.3" lengthAdjust="spacingAndGlyphs">DeepHomo</text>
<line x1="339.2" y1="135.7" x2="363.8" y2="135.7" stroke="#4a4a4a" stroke-width="1"/>
<circle cx="351.5" cy="135.7" r="3.4" fill="#92c6de"/>
<text x="368.8" y="140.3" font-size="11.8" text-anchor="start" fill="#1a1a1a" textLength="81.4" lengthAdjust="spacingAndGlyphs">DeepHomo2.0</text>
<text x="271.3" y="404.5" font-size="14.4" text-anchor="middle" fill="#1a1a1a" textLength="171" lengthAdjust="spacingAndGlyphs">No. of predicted contacts</text>
<text x="46.2" y="213.4" font-size="14.4" text-anchor="middle" fill="#1a1a1a" textLength="85.3" lengthAdjust="spacingAndGlyphs" transform="rotate(-90 46.2 213.4)">Precision (%)</text>
<clipPath id="clipc"><rect x="79.56" y="477.86" width="383.84" height="308.74"/></clipPath>
<g clip-path="url(#clipc)">
<path d="M79.56 562.1 L137.33 552.84 L171.13 559.01 L195.11 559.46 L213.71 552.84 L228.9 552.84 L241.75 551.96 L252.88 556.37 L262.7 557.25 L271.48 556.63 L279.42 556.1 L286.68 559.01 L293.35 560.16 L299.52 562.19 L305.28 561.31 L310.65 565.45 L315.71 564.84 L320.47 563.95 L324.98 565.04 L329.25 566.07 L333.32 566.65 L337.2 567.2 L340.9 567.73 L344.45 568.23 L347.85 568.72 L351.12 568.41 L354.27 568.12 L357.3 567.84 L360.22 567.84 L363.05 567.84 L365.78 568.96 L368.43 570.05 L370.99 571.11 L373.48 572.13 L375.9 573.13 L378.25 573.69 L380.53 574.23 L382.75 574.76 L384.92 575.27 L387.03 575.77 L389.09 575.77 L391.09 575.77 L393.06 575.77 L394.97 575.77 L396.84 575.77 L398.68 576.05 L400.47 576.32 L402.22 576.59 L403.94 576.84 L405.63 577.1 L407.28 577.29 L408.9 577.48 L410.48 577.66 L412.04 577.84 L413.57 578.02 L415.07 578.19 L416.55 578.37 L418 578.53 L419.42 578.7 L420.82 578.86 L422.2 579.32 L423.56 579.77 L424.89 580.21 L426.2 580.64 L427.49 581.07 L428.77 581.69 L430.02 582.29 L431.26 582.89 L432.47 583.48 L433.67 584.07 L434.85 584.5 L436.02 584.92 L437.17 585.34 L438.3 585.76 L439.42 586.16 L440.53 586.57 L441.62 586.96 L442.69 587.35 L443.75 587.74 L444.8 588.12 L445.84 588.37 L446.86 588.61 L447.87 588.85 L448.87 589.09 L449.85 589.32 L450.83 589.55 L451.79 589.78 L452.75 590.01 L453.69 590.23 L454.62 590.45 L455.54 590.67 L456.45 590.89 L457.35 591.1 L458.24 591.31 L459.12 591.52 L460 591.73 L460.86 591.93 L461.72 592.14 L462.56 592.34 L463.4 592.53" fill="none" stroke="#d98789" stroke-width="1"/>
<g fill="#c44e52"><circle cx="79.56" cy="562.1" r="3.7"/><circle cx="137.33" cy="552.84" r="3.7"/><circle cx="171.13" cy="559.01" r="3.7"/><circle cx="195.11" cy="559.46" r="3.7"/><circle cx="213.71" cy="552.84" r="3.7"/><circle cx="228.9" cy="552.84" r="3.7"/><circle cx="241.75" cy="551.96" r="3.7"/><circle cx="252.88" cy="556.37" r="3.7"/><circle cx="262.7" cy="557.25" r="3.7"/><circle cx="271.48" cy="556.63" r="3.7"/><circle cx="279.42" cy="556.1" r="3.7"/><circle cx="286.68" cy="559.01" r="3.7"/><circle cx="293.35" cy="560.16" r="3.7"/><circle cx="299.52" cy="562.19" r="3.7"/><circle cx="305.28" cy="561.31" r="3.7"/><circle cx="310.65" cy="565.45" r="3.7"/><circle cx="315.71" cy="564.84" r="3.7"/><circle cx="320.47" cy="563.95" r="3.7"/><circle cx="324.98" cy="565.04" r="3.7"/><circle cx="329.25" cy="566.07" r="3.7"/><circle cx="333.32" cy="566.65" r="3.7"/><circle cx="337.2" cy="567.2" r="3.7"/><circle cx="340.9" cy="567.73" r="3.7"/><circle cx="344.45" cy="568.23" r="3.7"/><circle cx="347.85" cy="568.72" r="3.7"/><circle cx="351.12" cy="568.41" r="3.7"/><circle cx="354.27" cy="568.12" r="3.7"/><circle cx="357.3" cy="567.84" r="3.7"/><circle cx="360.22" cy="567.84" r="3.7"/><circle cx="363.05" cy="567.84" r="3.7"/><circle cx="365.78" cy="568.96" r="3.7"/><circle cx="368.43" cy="570.05" r="3.7"/><circle cx="370.99" cy="571.11" r="3.7"/><circle cx="373.48" cy="572.13" r="3.7"/><circle cx="375.9" cy="573.13" r="3.7"/><circle cx="378.25" cy="573.69" r="3.7"/><circle cx="380.53" cy="574.23" r="3.7"/><circle cx="382.75" cy="574.76" r="3.7"/><circle cx="384.92" cy="575.27" r="3.7"/><circle cx="387.03" cy="575.77" r="3.7"/><circle cx="389.09" cy="575.77" r="3.7"/><circle cx="391.09" cy="575.77" r="3.7"/><circle cx="393.06" cy="575.77" r="3.7"/><circle cx="394.97" cy="575.77" r="3.7"/><circle cx="396.84" cy="575.77" r="3.7"/><circle cx="398.68" cy="576.05" r="3.7"/><circle cx="400.47" cy="576.32" r="3.7"/><circle cx="402.22" cy="576.59" r="3.7"/><circle cx="403.94" cy="576.84" r="3.7"/><circle cx="405.63" cy="577.1" r="3.7"/><circle cx="407.28" cy="577.29" r="3.7"/><circle cx="408.9" cy="577.48" r="3.7"/><circle cx="410.48" cy="577.66" r="3.7"/><circle cx="412.04" cy="577.84" r="3.7"/><circle cx="413.57" cy="578.02" r="3.7"/><circle cx="415.07" cy="578.19" r="3.7"/><circle cx="416.55" cy="578.37" r="3.7"/><circle cx="418" cy="578.53" r="3.7"/><circle cx="419.42" cy="578.7" r="3.7"/><circle cx="420.82" cy="578.86" r="3.7"/><circle cx="422.2" cy="579.32" r="3.7"/><circle cx="423.56" cy="579.77" r="3.7"/><circle cx="424.89" cy="580.21" r="3.7"/><circle cx="426.2" cy="580.64" r="3.7"/><circle cx="427.49" cy="581.07" r="3.7"/><circle cx="428.77" cy="581.69" r="3.7"/><circle cx="430.02" cy="582.29" r="3.7"/><circle cx="431.26" cy="582.89" r="3.7"/><circle cx="432.47" cy="583.48" r="3.7"/><circle cx="433.67" cy="584.07" r="3.7"/><circle cx="434.85" cy="584.5" r="3.7"/><circle cx="436.02" cy="584.92" r="3.7"/><circle cx="437.17" cy="585.34" r="3.7"/><circle cx="438.3" cy="585.76" r="3.7"/><circle cx="439.42" cy="586.16" r="3.7"/><circle cx="440.53" cy="586.57" r="3.7"/><circle cx="441.62" cy="586.96" r="3.7"/><circle cx="442.69" cy="587.35" r="3.7"/><circle cx="443.75" cy="587.74" r="3.7"/><circle cx="444.8" cy="588.12" r="3.7"/><circle cx="445.84" cy="588.37" r="3.7"/><circle cx="446.86" cy="588.61" r="3.7"/><circle cx="447.87" cy="588.85" r="3.7"/><circle cx="448.87" cy="589.09" r="3.7"/><circle cx="449.85" cy="589.32" r="3.7"/><circle cx="450.83" cy="589.55" r="3.7"/><circle cx="451.79" cy="589.78" r="3.7"/><circle cx="452.75" cy="590.01" r="3.7"/><circle cx="453.69" cy="590.23" r="3.7"/><circle cx="454.62" cy="590.45" r="3.7"/><circle cx="455.54" cy="590.67" r="3.7"/><circle cx="456.45" cy="590.89" r="3.7"/><circle cx="457.35" cy="591.1" r="3.7"/><circle cx="458.24" cy="591.31" r="3.7"/><circle cx="459.12" cy="591.52" r="3.7"/><circle cx="460" cy="591.73" r="3.7"/><circle cx="460.86" cy="591.93" r="3.7"/><circle cx="461.72" cy="592.14" r="3.7"/><circle cx="462.56" cy="592.34" r="3.7"/><circle cx="463.4" cy="592.53" r="3.7"/></g>
<path d="M79.56 611.94 L137.33 625.17 L171.13 626.5 L195.11 638.85 L213.71 640.17 L228.9 640.17 L241.75 645.02 L252.88 652.08 L262.7 655.16 L271.48 650.31 L279.42 649.43 L286.68 649.87 L293.35 649.87 L299.52 649.43 L305.28 654.72 L310.65 657.81 L315.71 660.46 L320.47 658.69 L324.98 660.5 L329.25 662.22 L333.32 663.76 L337.2 665.22 L340.9 667.25 L344.45 669.18 L347.85 671.04 L351.12 672.05 L354.27 673.02 L357.3 673.95 L360.22 674.85 L363.05 675.72 L365.78 676.53 L368.43 677.31 L370.99 678.06 L373.48 678.8 L375.9 679.51 L378.25 679.93 L380.53 680.35 L382.75 680.75 L384.92 682.62 L387.03 684.45 L389.09 685.7 L391.09 686.92 L393.06 688.11 L394.97 689.27 L396.84 690.41 L398.68 691.52 L400.47 692.61 L402.22 693.68 L403.94 694.72 L405.63 695.74 L407.28 696.41 L408.9 697.07 L410.48 697.72 L412.04 698.35 L413.57 698.97 L415.07 699.58 L416.55 700.18 L418 700.77 L419.42 701.35 L420.82 701.92 L422.2 702.62 L423.56 703.31 L424.89 703.98 L426.2 704.65 L427.49 705.31 L428.77 705.95 L430.02 706.59 L431.26 707.22 L432.47 707.84 L433.67 708.44 L434.85 709.06 L436.02 709.67 L437.17 710.27 L438.3 710.87 L439.42 711.45 L440.53 712.03 L441.62 712.6 L442.69 713.16 L443.75 713.72 L444.8 714.27 L445.84 714.64 L446.86 715.01 L447.87 715.37 L448.87 715.73 L449.85 716.09 L450.83 716.44 L451.79 716.79 L452.75 717.13 L453.69 717.47 L454.62 717.81 L455.54 718.14 L456.45 718.47 L457.35 718.79 L458.24 719.11 L459.12 719.43 L460 719.74 L460.86 720.06 L461.72 720.36 L462.56 720.67 L463.4 720.97" fill="none" stroke="#8cc79a" stroke-width="1"/>
<g fill="#55a868"><circle cx="79.56" cy="611.94" r="3.7"/><circle cx="137.33" cy="625.17" r="3.7"/><circle cx="171.13" cy="626.5" r="3.7"/><circle cx="195.11" cy="638.85" r="3.7"/><circle cx="213.71" cy="640.17" r="3.7"/><circle cx="228.9" cy="640.17" r="3.7"/><circle cx="241.75" cy="645.02" r="3.7"/><circle cx="252.88" cy="652.08" r="3.7"/><circle cx="262.7" cy="655.16" r="3.7"/><circle cx="271.48" cy="650.31" r="3.7"/><circle cx="279.42" cy="649.43" r="3.7"/><circle cx="286.68" cy="649.87" r="3.7"/><circle cx="293.35" cy="649.87" r="3.7"/><circle cx="299.52" cy="649.43" r="3.7"/><circle cx="305.28" cy="654.72" r="3.7"/><circle cx="310.65" cy="657.81" r="3.7"/><circle cx="315.71" cy="660.46" r="3.7"/><circle cx="320.47" cy="658.69" r="3.7"/><circle cx="324.98" cy="660.5" r="3.7"/><circle cx="329.25" cy="662.22" r="3.7"/><circle cx="333.32" cy="663.76" r="3.7"/><circle cx="337.2" cy="665.22" r="3.7"/><circle cx="340.9" cy="667.25" r="3.7"/><circle cx="344.45" cy="669.18" r="3.7"/><circle cx="347.85" cy="671.04" r="3.7"/><circle cx="351.12" cy="672.05" r="3.7"/><circle cx="354.27" cy="673.02" r="3.7"/><circle cx="357.3" cy="673.95" r="3.7"/><circle cx="360.22" cy="674.85" r="3.7"/><circle cx="363.05" cy="675.72" r="3.7"/><circle cx="365.78" cy="676.53" r="3.7"/><circle cx="368.43" cy="677.31" r="3.7"/><circle cx="370.99" cy="678.06" r="3.7"/><circle cx="373.48" cy="678.8" r="3.7"/><circle cx="375.9" cy="679.51" r="3.7"/><circle cx="378.25" cy="679.93" r="3.7"/><circle cx="380.53" cy="680.35" r="3.7"/><circle cx="382.75" cy="680.75" r="3.7"/><circle cx="384.92" cy="682.62" r="3.7"/><circle cx="387.03" cy="684.45" r="3.7"/><circle cx="389.09" cy="685.7" r="3.7"/><circle cx="391.09" cy="686.92" r="3.7"/><circle cx="393.06" cy="688.11" r="3.7"/><circle cx="394.97" cy="689.27" r="3.7"/><circle cx="396.84" cy="690.41" r="3.7"/><circle cx="398.68" cy="691.52" r="3.7"/><circle cx="400.47" cy="692.61" r="3.7"/><circle cx="402.22" cy="693.68" r="3.7"/><circle cx="403.94" cy="694.72" r="3.7"/><circle cx="405.63" cy="695.74" r="3.7"/><circle cx="407.28" cy="696.41" r="3.7"/><circle cx="408.9" cy="697.07" r="3.7"/><circle cx="410.48" cy="697.72" r="3.7"/><circle cx="412.04" cy="698.35" r="3.7"/><circle cx="413.57" cy="698.97" r="3.7"/><circle cx="415.07" cy="699.58" r="3.7"/><circle cx="416.55" cy="700.18" r="3.7"/><circle cx="418" cy="700.77" r="3.7"/><circle cx="419.42" cy="701.35" r="3.7"/><circle cx="420.82" cy="701.92" r="3.7"/><circle cx="422.2" cy="702.62" r="3.7"/><circle cx="423.56" cy="703.31" r="3.7"/><circle cx="424.89" cy="703.98" r="3.7"/><circle cx="426.2" cy="704.65" r="3.7"/><circle cx="427.49" cy="705.31" r="3.7"/><circle cx="428.77" cy="705.95" r="3.7"/><circle cx="430.02" cy="706.59" r="3.7"/><circle cx="431.26" cy="707.22" r="3.7"/><circle cx="432.47" cy="707.84" r="3.7"/><circle cx="433.67" cy="708.44" r="3.7"/><circle cx="434.85" cy="709.06" r="3.7"/><circle cx="436.02" cy="709.67" r="3.7"/><circle cx="437.17" cy="710.27" r="3.7"/><circle cx="438.3" cy="710.87" r="3.7"/><circle cx="439.42" cy="711.45" r="3.7"/><circle cx="440.53" cy="712.03" r="3.7"/><circle cx="441.62" cy="712.6" r="3.7"/><circle cx="442.69" cy="713.16" r="3.7"/><circle cx="443.75" cy="713.72" r="3.7"/><circle cx="444.8" cy="714.27" r="3.7"/><circle cx="445.84" cy="714.64" r="3.7"/><circle cx="446.86" cy="715.01" r="3.7"/><circle cx="447.87" cy="715.37" r="3.7"/><circle cx="448.87" cy="715.73" r="3.7"/><circle cx="449.85" cy="716.09" r="3.7"/><circle cx="450.83" cy="716.44" r="3.7"/><circle cx="451.79" cy="716.79" r="3.7"/><circle cx="452.75" cy="717.13" r="3.7"/><circle cx="453.69" cy="717.47" r="3.7"/><circle cx="454.62" cy="717.81" r="3.7"/><circle cx="455.54" cy="718.14" r="3.7"/><circle cx="456.45" cy="718.47" r="3.7"/><circle cx="457.35" cy="718.79" r="3.7"/><circle cx="458.24" cy="719.11" r="3.7"/><circle cx="459.12" cy="719.43" r="3.7"/><circle cx="460" cy="719.74" r="3.7"/><circle cx="460.86" cy="720.06" r="3.7"/><circle cx="461.72" cy="720.36" r="3.7"/><circle cx="462.56" cy="720.67" r="3.7"/><circle cx="463.4" cy="720.97" r="3.7"/></g>
<path d="M79.56 633.11 L137.33 646.34 L171.13 630.02 L195.11 635.32 L213.71 640.17 L228.9 645.02 L241.75 652.52 L252.88 661.34 L262.7 667.51 L271.48 671.93 L279.42 675.72 L286.68 680.13 L293.35 680.75 L299.52 687.45 L305.28 688.86 L310.65 690.45 L315.71 693.27 L320.47 696.18 L324.98 696.18 L329.25 696.62 L333.32 702.8 L337.2 701.92 L340.9 701.39 L344.45 704.81 L347.85 708.09 L351.12 709.67 L354.27 711.18 L357.3 712.64 L360.22 714.05 L363.05 715.41 L365.78 716.78 L368.43 718.11 L370.99 719.39 L373.48 720.64 L375.9 721.85 L378.25 722.89 L380.53 723.91 L382.75 724.9 L384.92 725.86 L387.03 726.79 L389.09 727.36 L391.09 727.91 L393.06 728.45 L394.97 728.98 L396.84 729.49 L398.68 730 L400.47 730.49 L402.22 730.97 L403.94 731.45 L405.63 731.91 L407.28 732.64 L408.9 733.36 L410.48 734.07 L412.04 734.76 L413.57 735.44 L415.07 736.06 L416.55 736.67 L418 737.27 L419.42 737.86 L420.82 738.44 L422.2 739.64 L423.56 740.82 L424.89 741.99 L426.2 743.13 L427.49 744.26 L428.77 745.06 L430.02 745.85 L431.26 746.62 L432.47 747.39 L433.67 748.14 L434.85 748.02 L436.02 747.9 L437.17 747.79 L438.3 748.57 L439.42 749.35 L440.53 750.11 L441.62 750.87 L442.69 751.62 L443.75 752.35 L444.8 753.08 L445.84 753.65 L446.86 754.21 L447.87 754.77 L448.87 755.32 L449.85 755.86 L450.83 756.4 L451.79 756.93 L452.75 757.45 L453.69 757.97 L454.62 758.48 L455.54 758.99 L456.45 759.49 L457.35 759.98 L458.24 760.47 L459.12 760.96 L460 761.44 L460.86 761.92 L461.72 762.39 L462.56 762.85 L463.4 763.31" fill="none" stroke="#5d8edb" stroke-width="1"/>
<g fill="#1756bf"><circle cx="79.56" cy="633.11" r="3.7"/><circle cx="137.33" cy="646.34" r="3.7"/><circle cx="171.13" cy="630.02" r="3.7"/><circle cx="195.11" cy="635.32" r="3.7"/><circle cx="213.71" cy="640.17" r="3.7"/><circle cx="228.9" cy="645.02" r="3.7"/><circle cx="241.75" cy="652.52" r="3.7"/><circle cx="252.88" cy="661.34" r="3.7"/><circle cx="262.7" cy="667.51" r="3.7"/><circle cx="271.48" cy="671.93" r="3.7"/><circle cx="279.42" cy="675.72" r="3.7"/><circle cx="286.68" cy="680.13" r="3.7"/><circle cx="293.35" cy="680.75" r="3.7"/><circle cx="299.52" cy="687.45" r="3.7"/><circle cx="305.28" cy="688.86" r="3.7"/><circle cx="310.65" cy="690.45" r="3.7"/><circle cx="315.71" cy="693.27" r="3.7"/><circle cx="320.47" cy="696.18" r="3.7"/><circle cx="324.98" cy="696.18" r="3.7"/><circle cx="329.25" cy="696.62" r="3.7"/><circle cx="333.32" cy="702.8" r="3.7"/><circle cx="337.2" cy="701.92" r="3.7"/><circle cx="340.9" cy="701.39" r="3.7"/><circle cx="344.45" cy="704.81" r="3.7"/><circle cx="347.85" cy="708.09" r="3.7"/><circle cx="351.12" cy="709.67" r="3.7"/><circle cx="354.27" cy="711.18" r="3.7"/><circle cx="357.3" cy="712.64" r="3.7"/><circle cx="360.22" cy="714.05" r="3.7"/><circle cx="363.05" cy="715.41" r="3.7"/><circle cx="365.78" cy="716.78" r="3.7"/><circle cx="368.43" cy="718.11" r="3.7"/><circle cx="370.99" cy="719.39" r="3.7"/><circle cx="373.48" cy="720.64" r="3.7"/><circle cx="375.9" cy="721.85" r="3.7"/><circle cx="378.25" cy="722.89" r="3.7"/><circle cx="380.53" cy="723.91" r="3.7"/><circle cx="382.75" cy="724.9" r="3.7"/><circle cx="384.92" cy="725.86" r="3.7"/><circle cx="387.03" cy="726.79" r="3.7"/><circle cx="389.09" cy="727.36" r="3.7"/><circle cx="391.09" cy="727.91" r="3.7"/><circle cx="393.06" cy="728.45" r="3.7"/><circle cx="394.97" cy="728.98" r="3.7"/><circle cx="396.84" cy="729.49" r="3.7"/><circle cx="398.68" cy="730" r="3.7"/><circle cx="400.47" cy="730.49" r="3.7"/><circle cx="402.22" cy="730.97" r="3.7"/><circle cx="403.94" cy="731.45" r="3.7"/><circle cx="405.63" cy="731.91" r="3.7"/><circle cx="407.28" cy="732.64" r="3.7"/><circle cx="408.9" cy="733.36" r="3.7"/><circle cx="410.48" cy="734.07" r="3.7"/><circle cx="412.04" cy="734.76" r="3.7"/><circle cx="413.57" cy="735.44" r="3.7"/><circle cx="415.07" cy="736.06" r="3.7"/><circle cx="416.55" cy="736.67" r="3.7"/><circle cx="418" cy="737.27" r="3.7"/><circle cx="419.42" cy="737.86" r="3.7"/><circle cx="420.82" cy="738.44" r="3.7"/><circle cx="422.2" cy="739.64" r="3.7"/><circle cx="423.56" cy="740.82" r="3.7"/><circle cx="424.89" cy="741.99" r="3.7"/><circle cx="426.2" cy="743.13" r="3.7"/><circle cx="427.49" cy="744.26" r="3.7"/><circle cx="428.77" cy="745.06" r="3.7"/><circle cx="430.02" cy="745.85" r="3.7"/><circle cx="431.26" cy="746.62" r="3.7"/><circle cx="432.47" cy="747.39" r="3.7"/><circle cx="433.67" cy="748.14" r="3.7"/><circle cx="434.85" cy="748.02" r="3.7"/><circle cx="436.02" cy="747.9" r="3.7"/><circle cx="437.17" cy="747.79" r="3.7"/><circle cx="438.3" cy="748.57" r="3.7"/><circle cx="439.42" cy="749.35" r="3.7"/><circle cx="440.53" cy="750.11" r="3.7"/><circle cx="441.62" cy="750.87" r="3.7"/><circle cx="442.69" cy="751.62" r="3.7"/><circle cx="443.75" cy="752.35" r="3.7"/><circle cx="444.8" cy="753.08" r="3.7"/><circle cx="445.84" cy="753.65" r="3.7"/><circle cx="446.86" cy="754.21" r="3.7"/><circle cx="447.87" cy="754.77" r="3.7"/><circle cx="448.87" cy="755.32" r="3.7"/><circle cx="449.85" cy="755.86" r="3.7"/><circle cx="450.83" cy="756.4" r="3.7"/><circle cx="451.79" cy="756.93" r="3.7"/><circle cx="452.75" cy="757.45" r="3.7"/><circle cx="453.69" cy="757.97" r="3.7"/><circle cx="454.62" cy="758.48" r="3.7"/><circle cx="455.54" cy="758.99" r="3.7"/><circle cx="456.45" cy="759.49" r="3.7"/><circle cx="457.35" cy="759.98" r="3.7"/><circle cx="458.24" cy="760.47" r="3.7"/><circle cx="459.12" cy="760.96" r="3.7"/><circle cx="460" cy="761.44" r="3.7"/><circle cx="460.86" cy="761.92" r="3.7"/><circle cx="461.72" cy="762.39" r="3.7"/><circle cx="462.56" cy="762.85" r="3.7"/><circle cx="463.4" cy="763.31" r="3.7"/></g>
</g>
<rect x="79.56" y="477.86" width="383.84" height="308.74" fill="none" stroke="#555555" stroke-width="1"/>
<text x="72.66" y="790.9" font-size="12.3" text-anchor="end" fill="#1a1a1a" textLength="14.6" lengthAdjust="spacingAndGlyphs">20</text>
<line x1="79.56" y1="764.55" x2="82.56" y2="764.55" stroke="#555555" stroke-width="1"/>
<line x1="79.56" y1="742.49" x2="85.56" y2="742.49" stroke="#555555" stroke-width="1"/>
<text x="72.66" y="747.39" font-size="12.3" text-anchor="end" fill="#1a1a1a" textLength="14.6" lengthAdjust="spacingAndGlyphs">25</text>
<line x1="79.56" y1="720.44" x2="82.56" y2="720.44" stroke="#555555" stroke-width="1"/>
<line x1="79.56" y1="698.39" x2="85.56" y2="698.39" stroke="#555555" stroke-width="1"/>
<text x="72.66" y="703.29" font-size="12.3" text-anchor="end" fill="#1a1a1a" textLength="14.6" lengthAdjust="spacingAndGlyphs">30</text>
<line x1="79.56" y1="676.34" x2="82.56" y2="676.34" stroke="#555555" stroke-width="1"/>
<line x1="79.56" y1="654.28" x2="85.56" y2="654.28" stroke="#555555" stroke-width="1"/>
<text x="72.66" y="659.18" font-size="12.3" text-anchor="end" fill="#1a1a1a" textLength="14.6" lengthAdjust="spacingAndGlyphs">35</text>
<line x1="79.56" y1="632.23" x2="82.56" y2="632.23" stroke="#555555" stroke-width="1"/>
<line x1="79.56" y1="610.18" x2="85.56" y2="610.18" stroke="#555555" stroke-width="1"/>
<text x="72.66" y="615.08" font-size="12.3" text-anchor="end" fill="#1a1a1a" textLength="14.6" lengthAdjust="spacingAndGlyphs">40</text>
<line x1="79.56" y1="588.12" x2="82.56" y2="588.12" stroke="#555555" stroke-width="1"/>
<line x1="79.56" y1="566.07" x2="85.56" y2="566.07" stroke="#555555" stroke-width="1"/>
<text x="72.66" y="570.97" font-size="12.3" text-anchor="end" fill="#1a1a1a" textLength="14.6" lengthAdjust="spacingAndGlyphs">45</text>
<line x1="79.56" y1="544.02" x2="82.56" y2="544.02" stroke="#555555" stroke-width="1"/>
<line x1="79.56" y1="521.97" x2="85.56" y2="521.97" stroke="#555555" stroke-width="1"/>
<text x="72.66" y="526.87" font-size="12.3" text-anchor="end" fill="#1a1a1a" textLength="14.6" lengthAdjust="spacingAndGlyphs">50</text>
<line x1="79.56" y1="499.91" x2="82.56" y2="499.91" stroke="#555555" stroke-width="1"/>
<text x="72.66" y="482.26" font-size="12.3" text-anchor="end" fill="#1a1a1a" textLength="14.6" lengthAdjust="spacingAndGlyphs">55</text>
<line x1="137.33" y1="786.6" x2="137.33" y2="783.6" stroke="#555555" stroke-width="1"/>
<line x1="171.13" y1="786.6" x2="171.13" y2="783.6" stroke="#555555" stroke-width="1"/>
<line x1="195.11" y1="786.6" x2="195.11" y2="783.6" stroke="#555555" stroke-width="1"/>
<line x1="213.71" y1="786.6" x2="213.71" y2="783.6" stroke="#555555" stroke-width="1"/>
<line x1="228.9" y1="786.6" x2="228.9" y2="783.6" stroke="#555555" stroke-width="1"/>
<line x1="241.75" y1="786.6" x2="241.75" y2="783.6" stroke="#555555" stroke-width="1"/>
<line x1="252.88" y1="786.6" x2="252.88" y2="783.6" stroke="#555555" stroke-width="1"/>
<line x1="262.7" y1="786.6" x2="262.7" y2="783.6" stroke="#555555" stroke-width="1"/>
<line x1="271.48" y1="786.6" x2="271.48" y2="780.6" stroke="#555555" stroke-width="1"/>
<line x1="329.25" y1="786.6" x2="329.25" y2="783.6" stroke="#555555" stroke-width="1"/>
<line x1="363.05" y1="786.6" x2="363.05" y2="783.6" stroke="#555555" stroke-width="1"/>
<line x1="387.03" y1="786.6" x2="387.03" y2="783.6" stroke="#555555" stroke-width="1"/>
<line x1="405.63" y1="786.6" x2="405.63" y2="783.6" stroke="#555555" stroke-width="1"/>
<line x1="420.82" y1="786.6" x2="420.82" y2="783.6" stroke="#555555" stroke-width="1"/>
<line x1="433.67" y1="786.6" x2="433.67" y2="783.6" stroke="#555555" stroke-width="1"/>
<line x1="444.8" y1="786.6" x2="444.8" y2="783.6" stroke="#555555" stroke-width="1"/>
<line x1="454.62" y1="786.6" x2="454.62" y2="783.6" stroke="#555555" stroke-width="1"/>
<line x1="463.4" y1="786.6" x2="463.4" y2="780.6" stroke="#555555" stroke-width="1"/>
<text x="79.26" y="802.5" font-size="12.3" text-anchor="middle" fill="#1a1a1a" textLength="7.3" lengthAdjust="spacingAndGlyphs">1</text>
<text x="271.48" y="802.5" font-size="12.3" text-anchor="middle" fill="#1a1a1a" textLength="14.6" lengthAdjust="spacingAndGlyphs">10</text>
<text x="463.2" y="802.5" font-size="12.3" text-anchor="middle" fill="#1a1a1a" textLength="21.9" lengthAdjust="spacingAndGlyphs">100</text>
<line x1="362.8" y1="493.6" x2="387.6" y2="493.6" stroke="#d98789" stroke-width="1"/>
<circle cx="375.2" cy="493.6" r="3.7" fill="#c44e52"/>
<text x="394.2" y="498.9" font-size="13.3" text-anchor="start" fill="#1a1a1a" textLength="65.2" lengthAdjust="spacingAndGlyphs">DeepInter</text>
<line x1="362.8" y1="509.4" x2="387.6" y2="509.4" stroke="#8cc79a" stroke-width="1"/>
<circle cx="375.2" cy="509.4" r="3.7" fill="#55a868"/>
<text x="394.2" y="514.7" font-size="13.3" text-anchor="start" fill="#1a1a1a" textLength="50" lengthAdjust="spacingAndGlyphs">CDPred</text>
<line x1="362.8" y1="525.4" x2="387.6" y2="525.4" stroke="#5d8edb" stroke-width="1"/>
<circle cx="375.2" cy="525.4" r="3.7" fill="#1756bf"/>
<text x="394.2" y="530.7" font-size="13.3" text-anchor="start" fill="#1a1a1a" textLength="56.5" lengthAdjust="spacingAndGlyphs">GLINTER</text>
<text x="271.5" y="822.5" font-size="14.4" text-anchor="middle" fill="#1a1a1a" textLength="171.5" lengthAdjust="spacingAndGlyphs">No. of predicted contacts</text>
<text x="46.2" y="632.3" font-size="14.4" text-anchor="middle" fill="#1a1a1a" textLength="86.5" lengthAdjust="spacingAndGlyphs" transform="rotate(-90 46.2 632.3)">Precision (%)</text>
<g fill="#5b9c6e"><circle cx="563.07" cy="273.33" r="3.1"/><circle cx="567.81" cy="286.51" r="3.1"/><circle cx="560.6" cy="297.84" r="3.1"/><circle cx="565.13" cy="300.51" r="3.1"/><circle cx="579.13" cy="312.26" r="3.1"/><circle cx="569.25" cy="319.88" r="3.1"/><circle cx="576.66" cy="321.52" r="3.1"/><circle cx="587.37" cy="319.88" r="3.1"/><circle cx="566.78" cy="335.94" r="3.1"/><circle cx="629.6" cy="353.86" r="3.1"/><circle cx="668.12" cy="353.86" r="3.1"/><circle cx="675.53" cy="353.86" r="3.1"/><circle cx="602.41" cy="245.73" r="3.1"/><circle cx="610.44" cy="248.61" r="3.1"/><circle cx="635.16" cy="266.32" r="3.1"/><circle cx="612.09" cy="270.85" r="3.1"/><circle cx="628.98" cy="307.52" r="3.1"/><circle cx="612.5" cy="310.4" r="3.1"/><circle cx="611.68" cy="323.17" r="3.1"/><circle cx="624.86" cy="325.23" r="3.1"/><circle cx="630.01" cy="330.18" r="3.1"/><circle cx="599.73" cy="335.53" r="3.1"/><circle cx="633.72" cy="344.18" r="3.1"/><circle cx="657.82" cy="247.58" r="3.1"/><circle cx="678.62" cy="238.11" r="3.1"/><circle cx="683.56" cy="243.46" r="3.1"/><circle cx="694.89" cy="237.28" r="3.1"/><circle cx="718.17" cy="238.11" r="3.1"/><circle cx="703.75" cy="253.96" r="3.1"/><circle cx="704.78" cy="273.12" r="3.1"/><circle cx="720.84" cy="280.74" r="3.1"/><circle cx="703.13" cy="288.98" r="3.1"/><circle cx="653.29" cy="309.17" r="3.1"/><circle cx="716.73" cy="312.67" r="3.1"/><circle cx="697.98" cy="315.76" r="3.1"/><circle cx="666.06" cy="327.7" r="3.1"/><circle cx="650.2" cy="329.76" r="3.1"/><circle cx="662.55" cy="335.94" r="3.1"/><circle cx="706.84" cy="340.68" r="3.1"/><circle cx="656.99" cy="340.06" r="3.1"/><circle cx="739.38" cy="276.21" r="3.1"/><circle cx="561.63" cy="333.88" r="3.1"/><circle cx="565.75" cy="344.18" r="3.1"/><circle cx="565.54" cy="189.5" r="3.1"/><circle cx="758.01" cy="162.11" r="3.1"/><circle cx="746.48" cy="213.19" r="3.1"/><circle cx="776.34" cy="184.15" r="3.1"/><circle cx="779.43" cy="189.29" r="3.1"/><circle cx="782.52" cy="189.91" r="3.1"/><circle cx="799.62" cy="169.52" r="3.1"/><circle cx="794.47" cy="193.62" r="3.1"/><circle cx="804.77" cy="193" r="3.1"/><circle cx="779.85" cy="197.53" r="3.1"/><circle cx="787.05" cy="215.66" r="3.1"/><circle cx="824.75" cy="154.69" r="3.1"/><circle cx="831.96" cy="165.81" r="3.1"/><circle cx="820.63" cy="167.87" r="3.1"/><circle cx="822.07" cy="180.64" r="3.1"/><circle cx="821.66" cy="198.15" r="3.1"/><circle cx="840.2" cy="138.42" r="3.1"/><circle cx="843.29" cy="134.92" r="3.1"/><circle cx="846.79" cy="149.34" r="3.1"/><circle cx="840.2" cy="161.08" r="3.1"/><circle cx="852.55" cy="167.87" r="3.1"/><circle cx="841.23" cy="175.49" r="3.1"/><circle cx="848.43" cy="178.17" r="3.1"/><circle cx="840.61" cy="196.71" r="3.1"/><circle cx="848.43" cy="196.3" r="3.1"/><circle cx="852.55" cy="111.23" r="3.1"/><circle cx="861.2" cy="113.7" r="3.1"/><circle cx="857.7" cy="121.53" r="3.1"/><circle cx="873.56" cy="108.96" r="3.1"/><circle cx="878.92" cy="89.6" r="3.1"/><circle cx="865.94" cy="125.03" r="3.1"/><circle cx="869.44" cy="123.38" r="3.1"/><circle cx="865.94" cy="133.68" r="3.1"/><circle cx="873.56" cy="159.63" r="3.1"/><circle cx="862.44" cy="185.79" r="3.1"/><circle cx="859.15" cy="192.59" r="3.1"/><circle cx="867.38" cy="195.68" r="3.1"/><circle cx="807.24" cy="258.5" r="3.1"/><circle cx="782.52" cy="297.84" r="3.1"/><circle cx="767.08" cy="301.34" r="3.1"/><circle cx="815.07" cy="327.91" r="3.1"/><circle cx="834.63" cy="332.85" r="3.1"/><circle cx="849.46" cy="354.07" r="3.1"/><circle cx="760.9" cy="353.86" r="3.1"/><circle cx="795.5" cy="353.86" r="3.1"/><circle cx="797.97" cy="353.86" r="3.1"/><circle cx="823.72" cy="353.86" r="3.1"/><circle cx="898.9" cy="341.3" r="3.1"/><circle cx="847.4" cy="231.31" r="3.1"/><circle cx="859.76" cy="286.51" r="3.1"/><circle cx="866.56" cy="295.37" r="3.1"/><circle cx="862.85" cy="301.34" r="3.1"/><circle cx="895.72" cy="154.81" r="3.1"/><circle cx="893.86" cy="113.24" r="3.1"/><circle cx="902.65" cy="125.43" r="3.1"/><circle cx="904.48" cy="80.2" r="3.1"/><circle cx="904.55" cy="73.3" r="3.1"/><circle cx="887.72" cy="87.43" r="3.1"/><circle cx="893.11" cy="106.14" r="3.1"/><circle cx="905.67" cy="83.68" r="3.1"/><circle cx="896.09" cy="105.74" r="3.1"/><circle cx="894.14" cy="119.02" r="3.1"/><circle cx="895.56" cy="104.45" r="3.1"/><circle cx="874.27" cy="216.25" r="3.1"/><circle cx="899.61" cy="84.11" r="3.1"/><circle cx="880.89" cy="123.21" r="3.1"/><circle cx="873.56" cy="165.64" r="3.1"/><circle cx="906.19" cy="130.7" r="3.1"/><circle cx="864.22" cy="201.73" r="3.1"/><circle cx="904.88" cy="94.01" r="3.1"/><circle cx="879.95" cy="98.18" r="3.1"/><circle cx="881.49" cy="109.41" r="3.1"/><circle cx="901.28" cy="88.75" r="3.1"/><circle cx="902.8" cy="85.02" r="3.1"/><circle cx="895.87" cy="103.46" r="3.1"/><circle cx="888.23" cy="140.58" r="3.1"/><circle cx="896.69" cy="89.09" r="3.1"/><circle cx="877.88" cy="124.03" r="3.1"/><circle cx="868.56" cy="113.8" r="3.1"/><circle cx="888.32" cy="122.33" r="3.1"/><circle cx="902.03" cy="81.64" r="3.1"/><circle cx="900.08" cy="138.03" r="3.1"/><circle cx="904.56" cy="98.38" r="3.1"/><circle cx="898.11" cy="94.25" r="3.1"/><circle cx="894.69" cy="144.78" r="3.1"/><circle cx="903.29" cy="108.1" r="3.1"/><circle cx="876.55" cy="99.2" r="3.1"/><circle cx="857.09" cy="136.63" r="3.1"/><circle cx="868.96" cy="133.26" r="3.1"/><circle cx="905.52" cy="97.13" r="3.1"/><circle cx="901.46" cy="86.38" r="3.1"/><circle cx="890.4" cy="112.87" r="3.1"/><circle cx="902.84" cy="80.32" r="3.1"/><circle cx="891.93" cy="99.24" r="3.1"/><circle cx="889.61" cy="102.8" r="3.1"/><circle cx="905.91" cy="149.28" r="3.1"/><circle cx="895.93" cy="103" r="3.1"/><circle cx="891.42" cy="94.94" r="3.1"/><circle cx="898.37" cy="154.67" r="3.1"/><circle cx="885.74" cy="151.49" r="3.1"/><circle cx="903.57" cy="83.62" r="3.1"/><circle cx="885.18" cy="93.59" r="3.1"/><circle cx="905.83" cy="100.88" r="3.1"/><circle cx="899.52" cy="109.8" r="3.1"/><circle cx="904.84" cy="129.06" r="3.1"/><circle cx="882.94" cy="109.7" r="3.1"/><circle cx="878.75" cy="124.33" r="3.1"/><circle cx="865.96" cy="123.61" r="3.1"/><circle cx="896.8" cy="99.75" r="3.1"/><circle cx="889.12" cy="154" r="3.1"/><circle cx="890.98" cy="98.18" r="3.1"/><circle cx="869.31" cy="113.66" r="3.1"/><circle cx="897.64" cy="86.32" r="3.1"/><circle cx="874.47" cy="145" r="3.1"/><circle cx="882.05" cy="139.54" r="3.1"/><circle cx="901.65" cy="87.42" r="3.1"/><circle cx="894.23" cy="141.85" r="3.1"/><circle cx="906.01" cy="125.31" r="3.1"/><circle cx="886.46" cy="97.18" r="3.1"/><circle cx="887.42" cy="110" r="3.1"/><circle cx="867.49" cy="129.6" r="3.1"/><circle cx="896.39" cy="127.28" r="3.1"/><circle cx="863.43" cy="133.9" r="3.1"/><circle cx="899.58" cy="103.25" r="3.1"/><circle cx="894.25" cy="118.91" r="3.1"/><circle cx="900.56" cy="135.65" r="3.1"/><circle cx="895.77" cy="87.34" r="3.1"/><circle cx="889.09" cy="112.11" r="3.1"/><circle cx="899.61" cy="131.25" r="3.1"/><circle cx="904.85" cy="74.27" r="3.1"/><circle cx="884.73" cy="99.57" r="3.1"/><circle cx="899.77" cy="82.15" r="3.1"/><circle cx="895.64" cy="81.18" r="3.1"/><circle cx="903.56" cy="73.47" r="3.1"/><circle cx="888.89" cy="115.75" r="3.1"/><circle cx="877.52" cy="147.73" r="3.1"/><circle cx="894.98" cy="97.49" r="3.1"/><circle cx="906.01" cy="127.86" r="3.1"/><circle cx="900.67" cy="88.98" r="3.1"/><circle cx="885.39" cy="138.09" r="3.1"/><circle cx="897.49" cy="88.22" r="3.1"/><circle cx="864.98" cy="175.16" r="3.1"/><circle cx="903.78" cy="117.93" r="3.1"/><circle cx="889.1" cy="116.66" r="3.1"/><circle cx="869.38" cy="122.45" r="3.1"/><circle cx="855.93" cy="163.32" r="3.1"/><circle cx="883.91" cy="104.25" r="3.1"/><circle cx="888.33" cy="94.35" r="3.1"/><circle cx="892.79" cy="108.89" r="3.1"/><circle cx="899.48" cy="136.59" r="3.1"/><circle cx="904.7" cy="111.96" r="3.1"/><circle cx="892.29" cy="81.2" r="3.1"/><circle cx="877.36" cy="154.02" r="3.1"/><circle cx="899.1" cy="104.62" r="3.1"/><circle cx="903.57" cy="101.5" r="3.1"/><circle cx="874.29" cy="133.57" r="3.1"/><circle cx="855.45" cy="198.16" r="3.1"/><circle cx="901.84" cy="82.6" r="3.1"/><circle cx="900.23" cy="86.43" r="3.1"/><circle cx="873.89" cy="148.88" r="3.1"/><circle cx="899.7" cy="128.22" r="3.1"/><circle cx="902.14" cy="122.67" r="3.1"/></g>
<g fill="#8172b2"><circle cx="565.54" cy="206.39" r="3.1"/><circle cx="558.54" cy="250.05" r="3.1"/><circle cx="562.66" cy="260.14" r="3.1"/><circle cx="579.13" cy="282.39" r="3.1"/><circle cx="558.54" cy="294.34" r="3.1"/><circle cx="571.31" cy="302.57" r="3.1"/><circle cx="558.54" cy="307.11" r="3.1"/><circle cx="559.57" cy="316.37" r="3.1"/><circle cx="566.78" cy="331.82" r="3.1"/><circle cx="569.87" cy="335.94" r="3.1"/><circle cx="576.66" cy="344.18" r="3.1"/><circle cx="587.37" cy="353.86" r="3.1"/><circle cx="599.73" cy="350.98" r="3.1"/><circle cx="610.44" cy="350.98" r="3.1"/><circle cx="699.63" cy="352.42" r="3.1"/><circle cx="704.78" cy="350.36" r="3.1"/><circle cx="718.17" cy="351.39" r="3.1"/><circle cx="612.09" cy="264.68" r="3.1"/><circle cx="624.86" cy="278.68" r="3.1"/><circle cx="630.01" cy="284.45" r="3.1"/><circle cx="628.57" cy="288.16" r="3.1"/><circle cx="602.41" cy="300.31" r="3.1"/><circle cx="628.16" cy="306.08" r="3.1"/><circle cx="599.73" cy="314.32" r="3.1"/><circle cx="612.71" cy="319.05" r="3.1"/><circle cx="635.78" cy="322.55" r="3.1"/><circle cx="703.34" cy="229.66" r="3.1"/><circle cx="662.55" cy="283.21" r="3.1"/><circle cx="720.84" cy="286.1" r="3.1"/><circle cx="656.99" cy="291.66" r="3.1"/><circle cx="657.82" cy="294.34" r="3.1"/><circle cx="653.29" cy="300.31" r="3.1"/><circle cx="667.7" cy="308.75" r="3.1"/><circle cx="716.73" cy="310.61" r="3.1"/><circle cx="694.89" cy="319.05" r="3.1"/><circle cx="697.57" cy="321.52" r="3.1"/><circle cx="706.84" cy="319.05" r="3.1"/><circle cx="652.26" cy="321.94" r="3.1"/><circle cx="650.2" cy="324.61" r="3.1"/><circle cx="675.32" cy="326.26" r="3.1"/><circle cx="679.03" cy="330.79" r="3.1"/><circle cx="739.38" cy="319.46" r="3.1"/><circle cx="560.6" cy="344.18" r="3.1"/><circle cx="563.07" cy="331.82" r="3.1"/><circle cx="683.56" cy="170.35" r="3.1"/><circle cx="776.34" cy="212.98" r="3.1"/><circle cx="820.63" cy="160.05" r="3.1"/><circle cx="823.31" cy="179.2" r="3.1"/><circle cx="822.07" cy="204.74" r="3.1"/><circle cx="847.4" cy="171.99" r="3.1"/><circle cx="852.97" cy="199.8" r="3.1"/><circle cx="851.52" cy="213.6" r="3.1"/><circle cx="849.05" cy="215.66" r="3.1"/><circle cx="840.61" cy="221.43" r="3.1"/><circle cx="859.76" cy="217.72" r="3.1"/><circle cx="869.44" cy="214.22" r="3.1"/><circle cx="779.43" cy="232.96" r="3.1"/><circle cx="782.94" cy="235.43" r="3.1"/><circle cx="800.03" cy="236.66" r="3.1"/><circle cx="805.18" cy="237.08" r="3.1"/><circle cx="821.66" cy="226.78" r="3.1"/><circle cx="825.16" cy="236.05" r="3.1"/><circle cx="787.05" cy="244.7" r="3.1"/><circle cx="757.81" cy="250.46" r="3.1"/><circle cx="797.97" cy="250.05" r="3.1"/><circle cx="781.08" cy="256.64" r="3.1"/><circle cx="746.48" cy="268.59" r="3.1"/><circle cx="794.47" cy="266.12" r="3.1"/><circle cx="807.24" cy="271.06" r="3.1"/><circle cx="760.9" cy="289.19" r="3.1"/><circle cx="782.94" cy="289.6" r="3.1"/><circle cx="794.88" cy="288.16" r="3.1"/><circle cx="776.96" cy="293.72" r="3.1"/><circle cx="767.08" cy="313.29" r="3.1"/><circle cx="802.71" cy="338" r="3.1"/><circle cx="782.11" cy="337.59" r="3.1"/><circle cx="834.63" cy="342.12" r="3.1"/><circle cx="815.07" cy="353.04" r="3.1"/><circle cx="841.23" cy="248.4" r="3.1"/><circle cx="846.79" cy="251.91" r="3.1"/><circle cx="843.9" cy="243.25" r="3.1"/><circle cx="840.61" cy="230.28" r="3.1"/><circle cx="857.7" cy="224.3" r="3.1"/><circle cx="859.15" cy="238.31" r="3.1"/><circle cx="831.96" cy="265.5" r="3.1"/><circle cx="841.64" cy="262.82" r="3.1"/><circle cx="848.02" cy="265.91" r="3.1"/><circle cx="848.43" cy="270.03" r="3.1"/><circle cx="867.38" cy="265.5" r="3.1"/><circle cx="874.18" cy="265.91" r="3.1"/><circle cx="863.88" cy="292.69" r="3.1"/><circle cx="862.44" cy="336.97" r="3.1"/><circle cx="865.94" cy="339.03" r="3.1"/><circle cx="859.76" cy="341.09" r="3.1"/><circle cx="880.77" cy="339.65" r="3.1"/><circle cx="876.65" cy="283.42" r="3.1"/><circle cx="882.42" cy="281.36" r="3.1"/><circle cx="881.8" cy="294.75" r="3.1"/><circle cx="877.89" cy="300.31" r="3.1"/><circle cx="888.6" cy="312.87" r="3.1"/><circle cx="899.31" cy="306.49" r="3.1"/><circle cx="893.78" cy="197.49" r="3.1"/><circle cx="902.45" cy="201.38" r="3.1"/><circle cx="894.51" cy="194.01" r="3.1"/><circle cx="905.73" cy="131.18" r="3.1"/><circle cx="894.07" cy="216.69" r="3.1"/><circle cx="879.21" cy="198.56" r="3.1"/><circle cx="894.91" cy="183.97" r="3.1"/><circle cx="905.06" cy="201.08" r="3.1"/><circle cx="897.27" cy="135.73" r="3.1"/><circle cx="863.25" cy="234.31" r="3.1"/><circle cx="895.49" cy="259.41" r="3.1"/><circle cx="896.7" cy="166.43" r="3.1"/><circle cx="867.61" cy="207.83" r="3.1"/><circle cx="899.82" cy="246.86" r="3.1"/><circle cx="890.12" cy="144.83" r="3.1"/><circle cx="903.89" cy="172.05" r="3.1"/><circle cx="905.82" cy="246.4" r="3.1"/><circle cx="901.89" cy="184.47" r="3.1"/><circle cx="899.7" cy="222.38" r="3.1"/><circle cx="890.04" cy="264.42" r="3.1"/><circle cx="884.26" cy="260.32" r="3.1"/><circle cx="894.26" cy="237.13" r="3.1"/><circle cx="902.52" cy="201.97" r="3.1"/><circle cx="896.61" cy="219.77" r="3.1"/><circle cx="897.29" cy="202.07" r="3.1"/><circle cx="903.29" cy="244.64" r="3.1"/><circle cx="889.52" cy="190.26" r="3.1"/><circle cx="893.59" cy="160.39" r="3.1"/><circle cx="890.39" cy="159.39" r="3.1"/><circle cx="901.78" cy="177.5" r="3.1"/><circle cx="878.39" cy="150.18" r="3.1"/><circle cx="899.86" cy="227.76" r="3.1"/><circle cx="863.39" cy="242.31" r="3.1"/><circle cx="869.67" cy="257.92" r="3.1"/><circle cx="901.63" cy="179.4" r="3.1"/><circle cx="901.18" cy="266.34" r="3.1"/><circle cx="876.36" cy="214.16" r="3.1"/><circle cx="880.12" cy="259.62" r="3.1"/><circle cx="897.59" cy="184.69" r="3.1"/><circle cx="905.9" cy="245.21" r="3.1"/><circle cx="887.03" cy="148.2" r="3.1"/><circle cx="904.15" cy="204.61" r="3.1"/><circle cx="882.47" cy="204.93" r="3.1"/><circle cx="886.85" cy="247.3" r="3.1"/><circle cx="904.98" cy="264.12" r="3.1"/><circle cx="905.57" cy="199.73" r="3.1"/><circle cx="894.11" cy="197.94" r="3.1"/><circle cx="903.55" cy="248.1" r="3.1"/><circle cx="902.39" cy="162.34" r="3.1"/><circle cx="862.47" cy="266.78" r="3.1"/><circle cx="905.13" cy="137.47" r="3.1"/><circle cx="895.84" cy="174.16" r="3.1"/><circle cx="899.59" cy="208.9" r="3.1"/><circle cx="894.1" cy="213.16" r="3.1"/><circle cx="890.85" cy="296.67" r="3.1"/><circle cx="886.02" cy="161.63" r="3.1"/><circle cx="902.86" cy="210.38" r="3.1"/><circle cx="883.73" cy="216.12" r="3.1"/><circle cx="902.57" cy="251.69" r="3.1"/><circle cx="894.19" cy="295.27" r="3.1"/><circle cx="868.81" cy="168.65" r="3.1"/><circle cx="885.81" cy="158.66" r="3.1"/><circle cx="889.61" cy="216.21" r="3.1"/><circle cx="890.9" cy="204.76" r="3.1"/><circle cx="878.89" cy="235.95" r="3.1"/><circle cx="865.7" cy="177" r="3.1"/><circle cx="881.04" cy="166.6" r="3.1"/><circle cx="897.51" cy="151.52" r="3.1"/><circle cx="870.78" cy="183.5" r="3.1"/><circle cx="881.83" cy="174.09" r="3.1"/><circle cx="897.5" cy="179.92" r="3.1"/><circle cx="904.98" cy="224.16" r="3.1"/><circle cx="895.63" cy="298.55" r="3.1"/><circle cx="898.86" cy="190.24" r="3.1"/><circle cx="889.85" cy="240.03" r="3.1"/><circle cx="857.81" cy="187.02" r="3.1"/><circle cx="899.31" cy="187.77" r="3.1"/><circle cx="892.11" cy="201.68" r="3.1"/><circle cx="897.95" cy="108.42" r="3.1"/><circle cx="889.02" cy="182.68" r="3.1"/><circle cx="882.22" cy="126.5" r="3.1"/><circle cx="905.82" cy="192.88" r="3.1"/><circle cx="883.76" cy="236.2" r="3.1"/><circle cx="897.62" cy="279.75" r="3.1"/><circle cx="902.57" cy="219.78" r="3.1"/><circle cx="904.47" cy="237.08" r="3.1"/><circle cx="866.74" cy="199.9" r="3.1"/><circle cx="894.35" cy="132.07" r="3.1"/><circle cx="892.17" cy="116.64" r="3.1"/><circle cx="889.22" cy="167.42" r="3.1"/><circle cx="904.88" cy="194.85" r="3.1"/><circle cx="882.4" cy="281.64" r="3.1"/><circle cx="861.71" cy="252.68" r="3.1"/><circle cx="895.53" cy="250.93" r="3.1"/><circle cx="894.76" cy="193.35" r="3.1"/></g>
<g fill="#1a69e0"><circle cx="558.54" cy="212.56" r="3.1"/><circle cx="558.54" cy="254.58" r="3.1"/><circle cx="579.13" cy="252.32" r="3.1"/><circle cx="558.54" cy="272.09" r="3.1"/><circle cx="565.54" cy="280.95" r="3.1"/><circle cx="569.87" cy="290.22" r="3.1"/><circle cx="561.01" cy="295.37" r="3.1"/><circle cx="562.66" cy="308.75" r="3.1"/><circle cx="570.48" cy="311.84" r="3.1"/><circle cx="570.9" cy="324.61" r="3.1"/><circle cx="573.99" cy="326.06" r="3.1"/><circle cx="576.66" cy="327.29" r="3.1"/><circle cx="558.54" cy="329.76" r="3.1"/><circle cx="558.54" cy="334.91" r="3.1"/><circle cx="587.37" cy="338.83" r="3.1"/><circle cx="564.72" cy="340.06" r="3.1"/><circle cx="567.81" cy="340.47" r="3.1"/><circle cx="558.54" cy="346.24" r="3.1"/><circle cx="560.6" cy="349.33" r="3.1"/><circle cx="602.41" cy="353.86" r="3.1"/><circle cx="628.57" cy="352.01" r="3.1"/><circle cx="629.6" cy="347.89" r="3.1"/><circle cx="694.89" cy="353.86" r="3.1"/><circle cx="702.72" cy="352.01" r="3.1"/><circle cx="704.78" cy="353.86" r="3.1"/><circle cx="718.17" cy="347.48" r="3.1"/><circle cx="611.68" cy="243.67" r="3.1"/><circle cx="613.12" cy="246.14" r="3.1"/><circle cx="612.09" cy="262.62" r="3.1"/><circle cx="599.73" cy="278.89" r="3.1"/><circle cx="635.16" cy="282.39" r="3.1"/><circle cx="625.07" cy="296.19" r="3.1"/><circle cx="611.68" cy="301.96" r="3.1"/><circle cx="635.78" cy="302.16" r="3.1"/><circle cx="621.36" cy="311.23" r="3.1"/><circle cx="625.07" cy="310.2" r="3.1"/><circle cx="627.54" cy="312.26" r="3.1"/><circle cx="633.72" cy="325.64" r="3.1"/><circle cx="610.44" cy="338.62" r="3.1"/><circle cx="667.7" cy="259.11" r="3.1"/><circle cx="678.62" cy="234.4" r="3.1"/><circle cx="683.56" cy="236.25" r="3.1"/><circle cx="703.75" cy="212.98" r="3.1"/><circle cx="720.84" cy="277.45" r="3.1"/><circle cx="716.73" cy="283.01" r="3.1"/><circle cx="675.32" cy="306.08" r="3.1"/><circle cx="706.84" cy="306.49" r="3.1"/><circle cx="699.63" cy="326.67" r="3.1"/><circle cx="662.55" cy="326.26" r="3.1"/><circle cx="652.26" cy="330.18" r="3.1"/><circle cx="650.2" cy="335.53" r="3.1"/><circle cx="656.99" cy="344.8" r="3.1"/><circle cx="653.29" cy="347.27" r="3.1"/><circle cx="665.64" cy="345.83" r="3.1"/><circle cx="697.98" cy="343.56" r="3.1"/><circle cx="739.38" cy="305.05" r="3.1"/><circle cx="558.95" cy="338" r="3.1"/><circle cx="558.95" cy="343.15" r="3.1"/><circle cx="561.63" cy="351.39" r="3.1"/><circle cx="564.3" cy="352.42" r="3.1"/><circle cx="558.95" cy="352.42" r="3.1"/><circle cx="566.78" cy="351.39" r="3.1"/><circle cx="807.24" cy="205.98" r="3.1"/><circle cx="847.82" cy="161.69" r="3.1"/><circle cx="840.61" cy="186.82" r="3.1"/><circle cx="852.97" cy="185.18" r="3.1"/><circle cx="839.78" cy="212.57" r="3.1"/><circle cx="873.56" cy="175.91" r="3.1"/><circle cx="876.86" cy="187.44" r="3.1"/><circle cx="857.7" cy="206.39" r="3.1"/><circle cx="869.44" cy="217.72" r="3.1"/><circle cx="779.85" cy="228.84" r="3.1"/><circle cx="804.77" cy="225.75" r="3.1"/><circle cx="821.66" cy="230.48" r="3.1"/><circle cx="783.14" cy="249.43" r="3.1"/><circle cx="800.03" cy="256.02" r="3.1"/><circle cx="781.08" cy="260.97" r="3.1"/><circle cx="787.05" cy="260.14" r="3.1"/><circle cx="767.08" cy="262.41" r="3.1"/><circle cx="746.48" cy="281.36" r="3.1"/><circle cx="822.07" cy="277.86" r="3.1"/><circle cx="776.96" cy="295.98" r="3.1"/><circle cx="815.07" cy="294.34" r="3.1"/><circle cx="823.72" cy="295.16" r="3.1"/><circle cx="757.81" cy="298.87" r="3.1"/><circle cx="782.94" cy="304.43" r="3.1"/><circle cx="794.88" cy="313.29" r="3.1"/><circle cx="794.47" cy="316.79" r="3.1"/><circle cx="776.34" cy="319.46" r="3.1"/><circle cx="760.9" cy="322.55" r="3.1"/><circle cx="782.52" cy="326.67" r="3.1"/><circle cx="797.97" cy="324.61" r="3.1"/><circle cx="802.71" cy="333.88" r="3.1"/><circle cx="780.05" cy="341.71" r="3.1"/><circle cx="834.63" cy="338.41" r="3.1"/><circle cx="820.63" cy="346.65" r="3.1"/><circle cx="840.61" cy="348.3" r="3.1"/><circle cx="848.43" cy="345.62" r="3.1"/><circle cx="847.4" cy="351.39" r="3.1"/><circle cx="780.05" cy="353.86" r="3.1"/><circle cx="878.92" cy="351.39" r="3.1"/><circle cx="900.34" cy="353.86" r="3.1"/><circle cx="906.73" cy="353.86" r="3.1"/><circle cx="903.43" cy="342.95" r="3.1"/><circle cx="824.75" cy="244.7" r="3.1"/><circle cx="831.96" cy="247.37" r="3.1"/><circle cx="849.46" cy="237.08" r="3.1"/><circle cx="852.14" cy="231.93" r="3.1"/><circle cx="865.94" cy="243.25" r="3.1"/><circle cx="865.94" cy="247.79" r="3.1"/><circle cx="873.56" cy="249.43" r="3.1"/><circle cx="861.2" cy="259.73" r="3.1"/><circle cx="840.61" cy="264.88" r="3.1"/><circle cx="843.9" cy="272.71" r="3.1"/><circle cx="859.76" cy="276.21" r="3.1"/><circle cx="865.94" cy="275.18" r="3.1"/><circle cx="841.84" cy="280.95" r="3.1"/><circle cx="846.79" cy="285.07" r="3.1"/><circle cx="841.23" cy="291.04" r="3.1"/><circle cx="841.23" cy="295.78" r="3.1"/><circle cx="873.77" cy="294.75" r="3.1"/><circle cx="862.85" cy="310.61" r="3.1"/><circle cx="862.44" cy="324.41" r="3.1"/><circle cx="859.15" cy="334.91" r="3.1"/><circle cx="876.24" cy="306.49" r="3.1"/><circle cx="888.19" cy="300.93" r="3.1"/><circle cx="884.89" cy="312.87" r="3.1"/><circle cx="895.4" cy="309.78" r="3.1"/><circle cx="901.58" cy="310.61" r="3.1"/><circle cx="899.31" cy="317.4" r="3.1"/><circle cx="893.75" cy="323.58" r="3.1"/><circle cx="902.61" cy="299.49" r="3.1"/><circle cx="907.14" cy="298.46" r="3.1"/><circle cx="906.83" cy="152.23" r="3.1"/><circle cx="906.39" cy="176.87" r="3.1"/><circle cx="906.17" cy="186.37" r="3.1"/><circle cx="906.55" cy="169.32" r="3.1"/><circle cx="906.22" cy="191.2" r="3.1"/><circle cx="906.03" cy="190.46" r="3.1"/><circle cx="906.88" cy="193.46" r="3.1"/><circle cx="906.85" cy="198.67" r="3.1"/><circle cx="905.98" cy="184.93" r="3.1"/><circle cx="905.81" cy="163.83" r="3.1"/><circle cx="906.84" cy="149.67" r="3.1"/><circle cx="905.75" cy="203.56" r="3.1"/><circle cx="905.8" cy="182.6" r="3.1"/><circle cx="906.32" cy="150.59" r="3.1"/><circle cx="906.6" cy="177.07" r="3.1"/><circle cx="905.76" cy="165.33" r="3.1"/><circle cx="906.33" cy="150.26" r="3.1"/><circle cx="905.9" cy="172.35" r="3.1"/><circle cx="906.76" cy="171.13" r="3.1"/><circle cx="906.34" cy="195.9" r="3.1"/><circle cx="906.84" cy="176.8" r="3.1"/><circle cx="906.75" cy="181.81" r="3.1"/><circle cx="906.09" cy="181.07" r="3.1"/><circle cx="906.58" cy="173.61" r="3.1"/><circle cx="906.39" cy="162.08" r="3.1"/><circle cx="906.25" cy="149.15" r="3.1"/><circle cx="905.74" cy="164.65" r="3.1"/><circle cx="906.61" cy="201.19" r="3.1"/><circle cx="905.81" cy="161.71" r="3.1"/><circle cx="906.14" cy="186.74" r="3.1"/><circle cx="906.57" cy="167.55" r="3.1"/><circle cx="906.21" cy="173.05" r="3.1"/><circle cx="906.13" cy="163.53" r="3.1"/><circle cx="906.67" cy="193.23" r="3.1"/><circle cx="905.71" cy="153.97" r="3.1"/><circle cx="905.83" cy="205.57" r="3.1"/><circle cx="906.83" cy="191.94" r="3.1"/><circle cx="906.38" cy="171.19" r="3.1"/><circle cx="906.78" cy="176" r="3.1"/><circle cx="906.81" cy="202.8" r="3.1"/><circle cx="906.08" cy="250.73" r="3.1"/><circle cx="906.13" cy="267.65" r="3.1"/><circle cx="906.32" cy="283.15" r="3.1"/><circle cx="906.48" cy="232.22" r="3.1"/><circle cx="905.88" cy="296.14" r="3.1"/><circle cx="906.75" cy="226.08" r="3.1"/><circle cx="906.14" cy="229.94" r="3.1"/><circle cx="906.64" cy="262.77" r="3.1"/><circle cx="906.59" cy="226.02" r="3.1"/><circle cx="906.45" cy="240.91" r="3.1"/><circle cx="905.69" cy="272.21" r="3.1"/><circle cx="906.23" cy="232.1" r="3.1"/><circle cx="905.78" cy="262.46" r="3.1"/><circle cx="906.45" cy="293.98" r="3.1"/><circle cx="905.83" cy="295.74" r="3.1"/><circle cx="906.8" cy="249.44" r="3.1"/><circle cx="906.31" cy="237.89" r="3.1"/><circle cx="906.54" cy="229.29" r="3.1"/><circle cx="906.81" cy="282.9" r="3.1"/><circle cx="906.09" cy="295.44" r="3.1"/><circle cx="906.53" cy="234.11" r="3.1"/><circle cx="906.05" cy="276.26" r="3.1"/><circle cx="905.37" cy="186.24" r="3.1"/><circle cx="901.8" cy="185.85" r="3.1"/><circle cx="905.46" cy="172.76" r="3.1"/><circle cx="903.21" cy="162.9" r="3.1"/><circle cx="897.04" cy="163.25" r="3.1"/><circle cx="904.05" cy="169.05" r="3.1"/><circle cx="904.72" cy="188.14" r="3.1"/><circle cx="904.26" cy="161.74" r="3.1"/><circle cx="898.8" cy="191.73" r="3.1"/><circle cx="904.45" cy="185.89" r="3.1"/><circle cx="904.44" cy="184.55" r="3.1"/><circle cx="904.32" cy="194.85" r="3.1"/><circle cx="903.25" cy="169.31" r="3.1"/><circle cx="903.42" cy="167.53" r="3.1"/><circle cx="903.26" cy="196.02" r="3.1"/><circle cx="901.4" cy="165.22" r="3.1"/><circle cx="904.82" cy="210.92" r="3.1"/><circle cx="903.58" cy="178.58" r="3.1"/><circle cx="903.23" cy="158.93" r="3.1"/><circle cx="902.55" cy="169" r="3.1"/><circle cx="905.65" cy="178.48" r="3.1"/><circle cx="900.99" cy="203.18" r="3.1"/><circle cx="905.59" cy="171.74" r="3.1"/><circle cx="898.67" cy="203.12" r="3.1"/><circle cx="902.7" cy="198.27" r="3.1"/><circle cx="901.56" cy="174.84" r="3.1"/><circle cx="904.97" cy="193.31" r="3.1"/><circle cx="901.31" cy="179.43" r="3.1"/><circle cx="901.32" cy="184.6" r="3.1"/><circle cx="904.56" cy="158.73" r="3.1"/><circle cx="905.73" cy="324.52" r="3.1"/><circle cx="905.96" cy="314.97" r="3.1"/><circle cx="905.67" cy="306.8" r="3.1"/><circle cx="906.18" cy="310.54" r="3.1"/><circle cx="905.74" cy="309.39" r="3.1"/><circle cx="875.41" cy="190.47" r="3.1"/><circle cx="866.51" cy="165.73" r="3.1"/><circle cx="885.29" cy="225.42" r="3.1"/><circle cx="881.84" cy="195" r="3.1"/><circle cx="892.9" cy="236.44" r="3.1"/><circle cx="899.14" cy="202.84" r="3.1"/><circle cx="894.13" cy="271.39" r="3.1"/><circle cx="898.01" cy="235.94" r="3.1"/><circle cx="896.14" cy="161.87" r="3.1"/><circle cx="900.7" cy="250.05" r="3.1"/><circle cx="899.72" cy="213.19" r="3.1"/><circle cx="877.71" cy="269.32" r="3.1"/><circle cx="900.64" cy="232.22" r="3.1"/><circle cx="887.62" cy="177.45" r="3.1"/><circle cx="901.08" cy="283.06" r="3.1"/><circle cx="898.41" cy="263.09" r="3.1"/><circle cx="897.38" cy="205.66" r="3.1"/><circle cx="887.2" cy="262.06" r="3.1"/><circle cx="898.4" cy="253.74" r="3.1"/><circle cx="898.64" cy="200.85" r="3.1"/><circle cx="895.69" cy="222.99" r="3.1"/><circle cx="874.45" cy="230" r="3.1"/><circle cx="896.84" cy="181.65" r="3.1"/><circle cx="862.32" cy="245.74" r="3.1"/><circle cx="888.98" cy="165.96" r="3.1"/><circle cx="891.12" cy="262.52" r="3.1"/><circle cx="900.86" cy="168.63" r="3.1"/><circle cx="875.78" cy="240.53" r="3.1"/><circle cx="889.66" cy="226.24" r="3.1"/><circle cx="896.53" cy="152.68" r="3.1"/><circle cx="884.51" cy="259.98" r="3.1"/><circle cx="901.5" cy="230.73" r="3.1"/><circle cx="894.23" cy="195.75" r="3.1"/><circle cx="881.66" cy="217.39" r="3.1"/><circle cx="898.93" cy="273.34" r="3.1"/><circle cx="895.45" cy="256.78" r="3.1"/><circle cx="869.08" cy="226.21" r="3.1"/><circle cx="885.44" cy="150.75" r="3.1"/><circle cx="896.71" cy="224.35" r="3.1"/><circle cx="899.06" cy="199.23" r="3.1"/><circle cx="901.65" cy="192.3" r="3.1"/><circle cx="871.68" cy="192.2" r="3.1"/><circle cx="900.3" cy="255.29" r="3.1"/><circle cx="881.48" cy="285.68" r="3.1"/><circle cx="891.2" cy="231.15" r="3.1"/><circle cx="887.52" cy="186.81" r="3.1"/><circle cx="895.88" cy="196.76" r="3.1"/><circle cx="893.03" cy="175.9" r="3.1"/><circle cx="900.15" cy="191.59" r="3.1"/><circle cx="897.93" cy="223.47" r="3.1"/><circle cx="889.73" cy="273.22" r="3.1"/><circle cx="873.1" cy="249.66" r="3.1"/><circle cx="895.71" cy="290.95" r="3.1"/><circle cx="895.83" cy="231.31" r="3.1"/><circle cx="881.56" cy="243.56" r="3.1"/><circle cx="883.06" cy="283.71" r="3.1"/><circle cx="893.64" cy="231.89" r="3.1"/><circle cx="873.31" cy="212.57" r="3.1"/></g>
<g fill="#92c6de"><circle cx="558.54" cy="207" r="3.1"/><circle cx="558.54" cy="234.6" r="3.1"/><circle cx="567.81" cy="261.79" r="3.1"/><circle cx="570.48" cy="261.79" r="3.1"/><circle cx="562.66" cy="271.06" r="3.1"/><circle cx="558.54" cy="288.57" r="3.1"/><circle cx="558.54" cy="305.05" r="3.1"/><circle cx="561.01" cy="311.84" r="3.1"/><circle cx="571.31" cy="314.52" r="3.1"/><circle cx="558.54" cy="321.52" r="3.1"/><circle cx="560.6" cy="323.58" r="3.1"/><circle cx="562.66" cy="325.64" r="3.1"/><circle cx="568.84" cy="328.73" r="3.1"/><circle cx="577.08" cy="329.76" r="3.1"/><circle cx="579.13" cy="332.85" r="3.1"/><circle cx="587.37" cy="337.59" r="3.1"/><circle cx="558.54" cy="341.09" r="3.1"/><circle cx="599.73" cy="353.86" r="3.1"/><circle cx="633.72" cy="352.42" r="3.1"/><circle cx="650.2" cy="350.77" r="3.1"/><circle cx="653.29" cy="353.86" r="3.1"/><circle cx="657.4" cy="352.42" r="3.1"/><circle cx="661.52" cy="353.86" r="3.1"/><circle cx="664.61" cy="353.86" r="3.1"/><circle cx="716.73" cy="353.86" r="3.1"/><circle cx="621.36" cy="252.52" r="3.1"/><circle cx="635.78" cy="249.43" r="3.1"/><circle cx="635.16" cy="251.91" r="3.1"/><circle cx="629.6" cy="260.56" r="3.1"/><circle cx="612.09" cy="282.8" r="3.1"/><circle cx="611.68" cy="293.1" r="3.1"/><circle cx="612.5" cy="295.78" r="3.1"/><circle cx="599.73" cy="298.87" r="3.1"/><circle cx="602.41" cy="302.99" r="3.1"/><circle cx="625.07" cy="303.6" r="3.1"/><circle cx="625.48" cy="319.05" r="3.1"/><circle cx="628.57" cy="321.11" r="3.1"/><circle cx="610.44" cy="326.47" r="3.1"/><circle cx="627.54" cy="324.61" r="3.1"/><circle cx="630.01" cy="337.38" r="3.1"/><circle cx="718.17" cy="260.97" r="3.1"/><circle cx="720.84" cy="265.29" r="3.1"/><circle cx="675.32" cy="275.59" r="3.1"/><circle cx="679.03" cy="284.04" r="3.1"/><circle cx="694.89" cy="280.95" r="3.1"/><circle cx="706.84" cy="280.95" r="3.1"/><circle cx="667.7" cy="302.37" r="3.1"/><circle cx="703.34" cy="308.14" r="3.1"/><circle cx="703.75" cy="311.23" r="3.1"/><circle cx="652.26" cy="334.29" r="3.1"/><circle cx="697.98" cy="332.85" r="3.1"/><circle cx="704.78" cy="338" r="3.1"/><circle cx="699.63" cy="342.74" r="3.1"/><circle cx="739.38" cy="296.81" r="3.1"/><circle cx="558.95" cy="353.86" r="3.1"/><circle cx="560.6" cy="352.42" r="3.1"/><circle cx="563.07" cy="353.86" r="3.1"/><circle cx="565.75" cy="353.45" r="3.1"/><circle cx="568.42" cy="353.86" r="3.1"/><circle cx="570.9" cy="352.42" r="3.1"/><circle cx="573.57" cy="353.86" r="3.1"/><circle cx="561.63" cy="327.29" r="3.1"/><circle cx="564.72" cy="326.06" r="3.1"/><circle cx="565.54" cy="152.01" r="3.1"/><circle cx="683.56" cy="141.3" r="3.1"/><circle cx="786.64" cy="197.53" r="3.1"/><circle cx="780.46" cy="199.18" r="3.1"/><circle cx="779.43" cy="202.68" r="3.1"/><circle cx="783.14" cy="211.95" r="3.1"/><circle cx="794.47" cy="220.4" r="3.1"/><circle cx="804.77" cy="185.18" r="3.1"/><circle cx="824.75" cy="167.46" r="3.1"/><circle cx="821.04" cy="169.93" r="3.1"/><circle cx="821.66" cy="187.44" r="3.1"/><circle cx="823.72" cy="190.94" r="3.1"/><circle cx="840.2" cy="146.66" r="3.1"/><circle cx="840.61" cy="153.46" r="3.1"/><circle cx="844.32" cy="166.23" r="3.1"/><circle cx="846.79" cy="174.46" r="3.1"/><circle cx="852.97" cy="170.76" r="3.1"/><circle cx="847.4" cy="184.35" r="3.1"/><circle cx="839.78" cy="194.65" r="3.1"/><circle cx="841.84" cy="207.01" r="3.1"/><circle cx="847.2" cy="105.67" r="3.1"/><circle cx="869.44" cy="119.47" r="3.1"/><circle cx="852.14" cy="141.1" r="3.1"/><circle cx="857.7" cy="160.66" r="3.1"/><circle cx="867.38" cy="169.32" r="3.1"/><circle cx="865.94" cy="174.05" r="3.1"/><circle cx="865.94" cy="180.23" r="3.1"/><circle cx="874.18" cy="182.7" r="3.1"/><circle cx="876.65" cy="183.73" r="3.1"/><circle cx="860.79" cy="208.45" r="3.1"/><circle cx="862.44" cy="215.66" r="3.1"/><circle cx="799.62" cy="251.91" r="3.1"/><circle cx="746.48" cy="255.2" r="3.1"/><circle cx="776.96" cy="256.64" r="3.1"/><circle cx="758.22" cy="265.5" r="3.1"/><circle cx="782.52" cy="271.27" r="3.1"/><circle cx="767.08" cy="286.1" r="3.1"/><circle cx="797.97" cy="288.98" r="3.1"/><circle cx="807.24" cy="295.37" r="3.1"/><circle cx="760.9" cy="297.22" r="3.1"/><circle cx="776.96" cy="307.11" r="3.1"/><circle cx="831.96" cy="302.37" r="3.1"/><circle cx="782.94" cy="313.29" r="3.1"/><circle cx="815.07" cy="317.4" r="3.1"/><circle cx="780.05" cy="327.09" r="3.1"/><circle cx="780.46" cy="353.86" r="3.1"/><circle cx="794.88" cy="353.04" r="3.1"/><circle cx="803.12" cy="353.45" r="3.1"/><circle cx="906.73" cy="352.01" r="3.1"/><circle cx="841.23" cy="237.08" r="3.1"/><circle cx="841.23" cy="222.66" r="3.1"/><circle cx="859.35" cy="227.39" r="3.1"/><circle cx="859.15" cy="246.76" r="3.1"/><circle cx="834.63" cy="268.59" r="3.1"/><circle cx="876.24" cy="267.97" r="3.1"/><circle cx="862.85" cy="277.24" r="3.1"/><circle cx="840.61" cy="278.27" r="3.1"/><circle cx="848.43" cy="289.6" r="3.1"/><circle cx="866.35" cy="283.83" r="3.1"/><circle cx="906.88" cy="120.46" r="3.1"/><circle cx="905.79" cy="131.03" r="3.1"/><circle cx="906.02" cy="114.33" r="3.1"/><circle cx="906.88" cy="73.93" r="3.1"/><circle cx="905.65" cy="133.36" r="3.1"/><circle cx="905.93" cy="127.02" r="3.1"/><circle cx="906.31" cy="108.14" r="3.1"/><circle cx="906.43" cy="123.46" r="3.1"/><circle cx="906.29" cy="98.53" r="3.1"/><circle cx="906.5" cy="133.87" r="3.1"/><circle cx="905.75" cy="124.07" r="3.1"/><circle cx="905.42" cy="106.4" r="3.1"/><circle cx="905.77" cy="123.9" r="3.1"/><circle cx="905.6" cy="142.02" r="3.1"/><circle cx="906.68" cy="141.86" r="3.1"/><circle cx="905.84" cy="95.38" r="3.1"/><circle cx="906.62" cy="118.55" r="3.1"/><circle cx="905.59" cy="104.13" r="3.1"/><circle cx="906.76" cy="131.85" r="3.1"/><circle cx="906.65" cy="139.61" r="3.1"/><circle cx="906.26" cy="143.51" r="3.1"/><circle cx="905.46" cy="116.68" r="3.1"/><circle cx="906.1" cy="100.01" r="3.1"/><circle cx="905.7" cy="86.84" r="3.1"/><circle cx="906.3" cy="123.92" r="3.1"/><circle cx="906.25" cy="147.84" r="3.1"/><circle cx="906.27" cy="96.02" r="3.1"/><circle cx="905.36" cy="89.22" r="3.1"/><circle cx="905.87" cy="102.93" r="3.1"/><circle cx="906.87" cy="123.95" r="3.1"/><circle cx="906.36" cy="99.74" r="3.1"/><circle cx="906.73" cy="120.42" r="3.1"/><circle cx="906.1" cy="89.31" r="3.1"/><circle cx="905.61" cy="102.72" r="3.1"/><circle cx="906.65" cy="90.98" r="3.1"/><circle cx="905.48" cy="107.5" r="3.1"/><circle cx="906.35" cy="111.12" r="3.1"/><circle cx="906.68" cy="95" r="3.1"/><circle cx="905.35" cy="109.94" r="3.1"/><circle cx="905.78" cy="85.75" r="3.1"/><circle cx="906.59" cy="77.47" r="3.1"/><circle cx="905.92" cy="134.03" r="3.1"/><circle cx="906.77" cy="130.49" r="3.1"/><circle cx="906" cy="96.23" r="3.1"/><circle cx="906.38" cy="78.67" r="3.1"/><circle cx="906.33" cy="113.95" r="3.1"/><circle cx="906.71" cy="75.3" r="3.1"/><circle cx="906.69" cy="80.56" r="3.1"/><circle cx="906.05" cy="106.56" r="3.1"/><circle cx="906.02" cy="128.99" r="3.1"/><circle cx="905.47" cy="73.9" r="3.1"/><circle cx="905.62" cy="103.47" r="3.1"/><circle cx="906.71" cy="86.58" r="3.1"/><circle cx="906.45" cy="81.1" r="3.1"/><circle cx="906.52" cy="105.58" r="3.1"/><circle cx="905.6" cy="134.96" r="3.1"/><circle cx="906.04" cy="143.23" r="3.1"/><circle cx="906.85" cy="135.38" r="3.1"/><circle cx="905.35" cy="77.88" r="3.1"/><circle cx="905.87" cy="125.72" r="3.1"/><circle cx="905.85" cy="93.16" r="3.1"/><circle cx="906.3" cy="104.2" r="3.1"/><circle cx="905.64" cy="147.77" r="3.1"/><circle cx="906.59" cy="113.57" r="3.1"/><circle cx="906.68" cy="119.76" r="3.1"/><circle cx="906.01" cy="135.86" r="3.1"/><circle cx="906.09" cy="129.05" r="3.1"/><circle cx="906.01" cy="123.87" r="3.1"/><circle cx="905.89" cy="146.14" r="3.1"/><circle cx="905.85" cy="138.05" r="3.1"/><circle cx="905.4" cy="103.58" r="3.1"/><circle cx="906.16" cy="117.86" r="3.1"/><circle cx="905.92" cy="96.82" r="3.1"/><circle cx="905.71" cy="92.1" r="3.1"/><circle cx="906.14" cy="73.71" r="3.1"/><circle cx="905.59" cy="84.27" r="3.1"/><circle cx="906.26" cy="116.15" r="3.1"/><circle cx="906.01" cy="80.47" r="3.1"/><circle cx="906.08" cy="109.26" r="3.1"/><circle cx="906.22" cy="80.55" r="3.1"/><circle cx="906.4" cy="144.87" r="3.1"/><circle cx="905.76" cy="80.86" r="3.1"/><circle cx="905.75" cy="103.77" r="3.1"/><circle cx="905.72" cy="125.94" r="3.1"/><circle cx="905.97" cy="143.72" r="3.1"/><circle cx="906.7" cy="115.17" r="3.1"/><circle cx="906.11" cy="118.97" r="3.1"/><circle cx="906.82" cy="96.4" r="3.1"/><circle cx="906.08" cy="130.9" r="3.1"/><circle cx="906.42" cy="119.06" r="3.1"/><circle cx="894.04" cy="135.03" r="3.1"/><circle cx="902.36" cy="120.72" r="3.1"/><circle cx="903.85" cy="145.61" r="3.1"/><circle cx="905.5" cy="111.76" r="3.1"/><circle cx="903.94" cy="134.4" r="3.1"/><circle cx="884.32" cy="148.38" r="3.1"/><circle cx="901.56" cy="122.58" r="3.1"/><circle cx="894.7" cy="149.68" r="3.1"/><circle cx="897.48" cy="129.48" r="3.1"/><circle cx="893.37" cy="137.29" r="3.1"/><circle cx="903.14" cy="125.91" r="3.1"/><circle cx="902.68" cy="85.38" r="3.1"/><circle cx="895.51" cy="104.45" r="3.1"/><circle cx="899.55" cy="149.36" r="3.1"/><circle cx="879.96" cy="129.08" r="3.1"/><circle cx="900.05" cy="98.22" r="3.1"/><circle cx="905.45" cy="80.9" r="3.1"/><circle cx="899.81" cy="136" r="3.1"/><circle cx="904.55" cy="138.06" r="3.1"/><circle cx="899.66" cy="101.97" r="3.1"/><circle cx="894.33" cy="102.17" r="3.1"/><circle cx="893.11" cy="135.56" r="3.1"/><circle cx="900.87" cy="101.78" r="3.1"/><circle cx="898.23" cy="146.28" r="3.1"/><circle cx="904.92" cy="112.48" r="3.1"/><circle cx="904.45" cy="106.97" r="3.1"/><circle cx="904.22" cy="91.28" r="3.1"/><circle cx="904.26" cy="94.94" r="3.1"/><circle cx="894.77" cy="110.95" r="3.1"/><circle cx="892.94" cy="95.34" r="3.1"/><circle cx="901.9" cy="114.67" r="3.1"/><circle cx="900.62" cy="103.48" r="3.1"/><circle cx="896.67" cy="92.84" r="3.1"/><circle cx="896.29" cy="88.03" r="3.1"/><circle cx="902.14" cy="140.48" r="3.1"/><circle cx="886.14" cy="119.25" r="3.1"/><circle cx="902.58" cy="92.21" r="3.1"/><circle cx="896.84" cy="136.15" r="3.1"/><circle cx="889.78" cy="150.49" r="3.1"/><circle cx="903.02" cy="109.06" r="3.1"/><circle cx="902.51" cy="141.51" r="3.1"/><circle cx="904.37" cy="119.7" r="3.1"/><circle cx="894.26" cy="91.64" r="3.1"/><circle cx="885.84" cy="109.35" r="3.1"/><circle cx="904.04" cy="134.86" r="3.1"/><circle cx="901.12" cy="149.95" r="3.1"/><circle cx="901.52" cy="112.7" r="3.1"/><circle cx="903.15" cy="146.39" r="3.1"/><circle cx="900.13" cy="133.56" r="3.1"/><circle cx="904.72" cy="89.14" r="3.1"/><circle cx="904.67" cy="121.55" r="3.1"/><circle cx="903.55" cy="94.51" r="3.1"/><circle cx="905.01" cy="118.1" r="3.1"/><circle cx="903.59" cy="134.66" r="3.1"/><circle cx="903.16" cy="122.92" r="3.1"/><circle cx="878.78" cy="147.32" r="3.1"/><circle cx="902.23" cy="94.36" r="3.1"/><circle cx="902.04" cy="133.69" r="3.1"/><circle cx="899.83" cy="117.62" r="3.1"/><circle cx="893.67" cy="127.22" r="3.1"/><circle cx="900.74" cy="150.15" r="3.1"/><circle cx="900.07" cy="148.7" r="3.1"/><circle cx="896.83" cy="117.54" r="3.1"/><circle cx="902.47" cy="123.82" r="3.1"/><circle cx="901.97" cy="126.43" r="3.1"/><circle cx="904.68" cy="140.58" r="3.1"/><circle cx="902.97" cy="117.15" r="3.1"/><circle cx="905.49" cy="137.44" r="3.1"/><circle cx="904.29" cy="99.9" r="3.1"/><circle cx="904.37" cy="151.78" r="3.1"/><circle cx="889.76" cy="122.91" r="3.1"/><circle cx="905.04" cy="132.5" r="3.1"/><circle cx="905.25" cy="97.43" r="3.1"/><circle cx="905.43" cy="128.38" r="3.1"/><circle cx="898.67" cy="85.17" r="3.1"/><circle cx="903.41" cy="113.17" r="3.1"/><circle cx="905.06" cy="134.84" r="3.1"/><circle cx="904.03" cy="107.3" r="3.1"/><circle cx="903.67" cy="120.52" r="3.1"/><circle cx="899.55" cy="98.73" r="3.1"/><circle cx="904.74" cy="101.85" r="3.1"/><circle cx="898.99" cy="131.6" r="3.1"/><circle cx="902.29" cy="123.41" r="3.1"/><circle cx="904.67" cy="130.69" r="3.1"/><circle cx="901" cy="150.08" r="3.1"/><circle cx="901.07" cy="109.57" r="3.1"/><circle cx="902.45" cy="101.51" r="3.1"/><circle cx="880.08" cy="100.07" r="3.1"/><circle cx="904.33" cy="135.12" r="3.1"/><circle cx="905.55" cy="120.23" r="3.1"/><circle cx="902.5" cy="123.65" r="3.1"/><circle cx="903.34" cy="131.64" r="3.1"/><circle cx="900.52" cy="116.57" r="3.1"/><circle cx="903.82" cy="134.72" r="3.1"/><circle cx="901.59" cy="120.65" r="3.1"/><circle cx="890.4" cy="99.13" r="3.1"/><circle cx="903.65" cy="151.44" r="3.1"/><circle cx="905.58" cy="148.36" r="3.1"/><circle cx="897.57" cy="115" r="3.1"/><circle cx="905.74" cy="128.11" r="3.1"/><circle cx="895.05" cy="126.45" r="3.1"/><circle cx="902.93" cy="133.02" r="3.1"/><circle cx="899.86" cy="117.03" r="3.1"/><circle cx="887" cy="108.79" r="3.1"/><circle cx="898.87" cy="104.84" r="3.1"/><circle cx="897.23" cy="121.17" r="3.1"/><circle cx="902.41" cy="150.27" r="3.1"/><circle cx="887.47" cy="129.42" r="3.1"/><circle cx="904.59" cy="141.66" r="3.1"/><circle cx="905.85" cy="100.77" r="3.1"/><circle cx="904.52" cy="111.28" r="3.1"/><circle cx="895.55" cy="115.15" r="3.1"/><circle cx="883.21" cy="105.07" r="3.1"/><circle cx="899.72" cy="84.87" r="3.1"/><circle cx="883.7" cy="99.59" r="3.1"/><circle cx="897.05" cy="140.92" r="3.1"/><circle cx="904.21" cy="109.74" r="3.1"/><circle cx="902.11" cy="95.46" r="3.1"/><circle cx="904.9" cy="133.99" r="3.1"/><circle cx="905.54" cy="113.6" r="3.1"/><circle cx="899.91" cy="147.92" r="3.1"/><circle cx="886.96" cy="144.52" r="3.1"/><circle cx="896.04" cy="116.15" r="3.1"/><circle cx="904.43" cy="86.14" r="3.1"/><circle cx="899.26" cy="114.08" r="3.1"/><circle cx="899.72" cy="98.01" r="3.1"/><circle cx="898.91" cy="128.01" r="3.1"/><circle cx="895" cy="88.23" r="3.1"/><circle cx="893.28" cy="120.78" r="3.1"/><circle cx="903.83" cy="89.14" r="3.1"/><circle cx="902.21" cy="124.15" r="3.1"/><circle cx="901.56" cy="138.98" r="3.1"/><circle cx="903.71" cy="80.65" r="3.1"/><circle cx="900.99" cy="100.19" r="3.1"/><circle cx="904.88" cy="122.62" r="3.1"/><circle cx="905.64" cy="98.21" r="3.1"/><circle cx="903.9" cy="131.16" r="3.1"/><circle cx="902.04" cy="127.76" r="3.1"/><circle cx="904.05" cy="115.97" r="3.1"/><circle cx="901.32" cy="91.49" r="3.1"/><circle cx="887.33" cy="123.01" r="3.1"/><circle cx="903.51" cy="111.12" r="3.1"/><circle cx="892.63" cy="139.71" r="3.1"/><circle cx="903.9" cy="133.83" r="3.1"/><circle cx="901.79" cy="128.26" r="3.1"/><circle cx="901.49" cy="142.14" r="3.1"/><circle cx="899.8" cy="135.67" r="3.1"/><circle cx="905.53" cy="133.2" r="3.1"/><circle cx="905.46" cy="84.38" r="3.1"/><circle cx="902.67" cy="139.14" r="3.1"/><circle cx="898.79" cy="86.34" r="3.1"/><circle cx="905.57" cy="90.99" r="3.1"/><circle cx="893.27" cy="110.76" r="3.1"/><circle cx="880.44" cy="131.85" r="3.1"/><circle cx="905.72" cy="97.31" r="3.1"/><circle cx="905.48" cy="140.19" r="3.1"/><circle cx="900.85" cy="125.54" r="3.1"/><circle cx="904.7" cy="113.56" r="3.1"/><circle cx="888.84" cy="90.75" r="3.1"/><circle cx="883.46" cy="122.43" r="3.1"/><circle cx="904.17" cy="94.02" r="3.1"/><circle cx="905.21" cy="133.9" r="3.1"/><circle cx="903.46" cy="108.74" r="3.1"/><circle cx="884.63" cy="124.74" r="3.1"/><circle cx="900.03" cy="125.09" r="3.1"/><circle cx="900.64" cy="131.68" r="3.1"/><circle cx="899.26" cy="145.95" r="3.1"/><circle cx="895.6" cy="136.92" r="3.1"/><circle cx="905.31" cy="100.76" r="3.1"/><circle cx="903.11" cy="142.19" r="3.1"/><circle cx="899.03" cy="152.49" r="3.1"/><circle cx="902.64" cy="128.42" r="3.1"/><circle cx="899.01" cy="85.32" r="3.1"/><circle cx="898.46" cy="144.86" r="3.1"/><circle cx="904.3" cy="98.77" r="3.1"/><circle cx="900.63" cy="100.99" r="3.1"/><circle cx="883.65" cy="139.07" r="3.1"/><circle cx="899.55" cy="141.79" r="3.1"/><circle cx="901.18" cy="103.56" r="3.1"/><circle cx="903.99" cy="114.29" r="3.1"/><circle cx="897.94" cy="88.64" r="3.1"/><circle cx="903.49" cy="101.9" r="3.1"/><circle cx="894.84" cy="135.48" r="3.1"/><circle cx="901.04" cy="113.48" r="3.1"/><circle cx="894.19" cy="118.76" r="3.1"/><circle cx="885.78" cy="196.99" r="3.1"/><circle cx="896.1" cy="152.19" r="3.1"/><circle cx="890.1" cy="188.41" r="3.1"/><circle cx="890.13" cy="152.38" r="3.1"/><circle cx="897.59" cy="158.87" r="3.1"/><circle cx="903.73" cy="152.34" r="3.1"/><circle cx="895.6" cy="192.62" r="3.1"/><circle cx="887.82" cy="170.5" r="3.1"/><circle cx="885.65" cy="160.91" r="3.1"/><circle cx="888.77" cy="177.83" r="3.1"/><circle cx="884.4" cy="201.63" r="3.1"/><circle cx="887.16" cy="167.17" r="3.1"/><circle cx="900.96" cy="162.09" r="3.1"/><circle cx="896.43" cy="176.52" r="3.1"/><circle cx="887.26" cy="194.65" r="3.1"/><circle cx="900.32" cy="170.79" r="3.1"/><circle cx="904.91" cy="175.52" r="3.1"/><circle cx="889.01" cy="178.94" r="3.1"/><circle cx="901.16" cy="162.47" r="3.1"/><circle cx="887.49" cy="164.02" r="3.1"/><circle cx="894.31" cy="156.84" r="3.1"/><circle cx="888.79" cy="197" r="3.1"/><circle cx="898.4" cy="288.34" r="3.1"/><circle cx="905.73" cy="265.62" r="3.1"/><circle cx="887.27" cy="220.46" r="3.1"/><circle cx="903.93" cy="280.81" r="3.1"/><circle cx="897.89" cy="219.04" r="3.1"/><circle cx="892.83" cy="249.04" r="3.1"/><circle cx="905.16" cy="235.09" r="3.1"/><circle cx="902.98" cy="269.34" r="3.1"/><circle cx="877.06" cy="263.36" r="3.1"/><circle cx="903.15" cy="267.07" r="3.1"/><circle cx="898.35" cy="328.69" r="3.1"/></g>
<line x1="563.82" y1="349.49" x2="899.93" y2="78.91" stroke="#1a1a1a" stroke-width="1.2"/>
<rect x="541.2" y="59.2" width="383.1" height="308.7" fill="none" stroke="#555555" stroke-width="1"/>
<line x1="541.2" y1="353.7" x2="547.2" y2="353.7" stroke="#555555" stroke-width="1"/>
<line x1="558.6" y1="367.9" x2="558.6" y2="361.9" stroke="#555555" stroke-width="1"/>
<text x="535.5" y="359.3" font-size="12.3" text-anchor="end" fill="#1a1a1a" textLength="7.3" lengthAdjust="spacingAndGlyphs">0</text>
<text x="558.6" y="383.7" font-size="12.3" text-anchor="middle" fill="#1a1a1a" textLength="7.3" lengthAdjust="spacingAndGlyphs">0</text>
<line x1="541.2" y1="325.66" x2="543.7" y2="325.66" stroke="#555555" stroke-width="1"/>
<line x1="593.43" y1="367.9" x2="593.43" y2="365.4" stroke="#555555" stroke-width="1"/>
<line x1="541.2" y1="297.62" x2="547.2" y2="297.62" stroke="#555555" stroke-width="1"/>
<line x1="628.26" y1="367.9" x2="628.26" y2="361.9" stroke="#555555" stroke-width="1"/>
<text x="535.5" y="303.22" font-size="12.3" text-anchor="end" fill="#1a1a1a" textLength="14.6" lengthAdjust="spacingAndGlyphs">20</text>
<text x="628.26" y="383.7" font-size="12.3" text-anchor="middle" fill="#1a1a1a" textLength="14.6" lengthAdjust="spacingAndGlyphs">20</text>
<line x1="541.2" y1="269.58" x2="543.7" y2="269.58" stroke="#555555" stroke-width="1"/>
<line x1="663.09" y1="367.9" x2="663.09" y2="365.4" stroke="#555555" stroke-width="1"/>
<line x1="541.2" y1="241.54" x2="547.2" y2="241.54" stroke="#555555" stroke-width="1"/>
<line x1="697.92" y1="367.9" x2="697.92" y2="361.9" stroke="#555555" stroke-width="1"/>
<text x="535.5" y="247.14" font-size="12.3" text-anchor="end" fill="#1a1a1a" textLength="14.6" lengthAdjust="spacingAndGlyphs">40</text>
<text x="697.92" y="383.7" font-size="12.3" text-anchor="middle" fill="#1a1a1a" textLength="14.6" lengthAdjust="spacingAndGlyphs">40</text>
<line x1="541.2" y1="213.5" x2="543.7" y2="213.5" stroke="#555555" stroke-width="1"/>
<line x1="732.75" y1="367.9" x2="732.75" y2="365.4" stroke="#555555" stroke-width="1"/>
<line x1="541.2" y1="185.46" x2="547.2" y2="185.46" stroke="#555555" stroke-width="1"/>
<line x1="767.58" y1="367.9" x2="767.58" y2="361.9" stroke="#555555" stroke-width="1"/>
<text x="535.5" y="191.06" font-size="12.3" text-anchor="end" fill="#1a1a1a" textLength="14.6" lengthAdjust="spacingAndGlyphs">60</text>
<text x="767.58" y="383.7" font-size="12.3" text-anchor="middle" fill="#1a1a1a" textLength="14.6" lengthAdjust="spacingAndGlyphs">60</text>
<line x1="541.2" y1="157.42" x2="543.7" y2="157.42" stroke="#555555" stroke-width="1"/>
<line x1="802.41" y1="367.9" x2="802.41" y2="365.4" stroke="#555555" stroke-width="1"/>
<line x1="541.2" y1="129.38" x2="547.2" y2="129.38" stroke="#555555" stroke-width="1"/>
<line x1="837.24" y1="367.9" x2="837.24" y2="361.9" stroke="#555555" stroke-width="1"/>
<text x="535.5" y="134.98" font-size="12.3" text-anchor="end" fill="#1a1a1a" textLength="14.6" lengthAdjust="spacingAndGlyphs">80</text>
<text x="837.24" y="383.7" font-size="12.3" text-anchor="middle" fill="#1a1a1a" textLength="14.6" lengthAdjust="spacingAndGlyphs">80</text>
<line x1="541.2" y1="101.34" x2="543.7" y2="101.34" stroke="#555555" stroke-width="1"/>
<line x1="872.07" y1="367.9" x2="872.07" y2="365.4" stroke="#555555" stroke-width="1"/>
<line x1="541.2" y1="73.3" x2="547.2" y2="73.3" stroke="#555555" stroke-width="1"/>
<line x1="906.9" y1="367.9" x2="906.9" y2="361.9" stroke="#555555" stroke-width="1"/>
<text x="535.5" y="78" font-size="12.3" text-anchor="end" fill="#1a1a1a" textLength="21.9" lengthAdjust="spacingAndGlyphs">100</text>
<text x="906.9" y="383.7" font-size="12.3" text-anchor="middle" fill="#1a1a1a" textLength="21.9" lengthAdjust="spacingAndGlyphs">100</text>
<circle cx="567.8" cy="73.1" r="3.0" fill="#5b9c6e"/>
<text x="576.5" y="77" font-size="11.8" text-anchor="start" fill="#1a1a1a" textLength="42.2" lengthAdjust="spacingAndGlyphs">CDPred</text>
<circle cx="567.8" cy="89" r="3.0" fill="#8172b2"/>
<text x="576.5" y="92.9" font-size="11.8" text-anchor="start" fill="#1a1a1a" textLength="48" lengthAdjust="spacingAndGlyphs">GLINTER</text>
<circle cx="567.8" cy="105" r="3.0" fill="#1a69e0"/>
<text x="576.5" y="108.9" font-size="11.8" text-anchor="start" fill="#1a1a1a" textLength="63.4" lengthAdjust="spacingAndGlyphs">DeepHomo</text>
<circle cx="567.8" cy="120.9" r="3.0" fill="#92c6de"/>
<text x="576.5" y="124.8" font-size="11.8" text-anchor="start" fill="#1a1a1a" textLength="81.4" lengthAdjust="spacingAndGlyphs">DeepHomo2.0</text>
<text x="732.8" y="404.4" font-size="14.4" text-anchor="middle" fill="#1a1a1a" textLength="171.8" lengthAdjust="spacingAndGlyphs">Precision of DeepInter (%)</text>
<text x="506.6" y="212.2" font-size="14.4" text-anchor="middle" fill="#1a1a1a" textLength="207.5" lengthAdjust="spacingAndGlyphs" transform="rotate(-90 506.6 212.2)">Precision of other methods (%)</text>
<g fill="#5a9e70"><circle cx="558.95" cy="640.19" r="4.0"/><circle cx="558.95" cy="680.35" r="4.0"/><circle cx="558.95" cy="685.91" r="4.0"/><circle cx="558.95" cy="692.09" r="4.0"/><circle cx="568.84" cy="686.53" r="4.0"/><circle cx="590.05" cy="689" r="4.0"/><circle cx="636.4" cy="698.27" r="4.0"/><circle cx="681.71" cy="654.4" r="4.0"/><circle cx="687.68" cy="658.93" r="4.0"/><circle cx="689.33" cy="669.02" r="4.0"/><circle cx="686.24" cy="690.03" r="4.0"/><circle cx="726.61" cy="692.71" r="4.0"/><circle cx="724.96" cy="717.22" r="4.0"/><circle cx="659.46" cy="715.57" r="4.0"/><circle cx="686.86" cy="729.78" r="4.0"/><circle cx="572.96" cy="713.1" r="4.0"/><circle cx="568.84" cy="713.72" r="4.0"/><circle cx="558.95" cy="721.54" r="4.0"/><circle cx="562.66" cy="728.14" r="4.0"/><circle cx="568.84" cy="722.99" r="4.0"/><circle cx="586.96" cy="729.17" r="4.0"/><circle cx="570.48" cy="735.35" r="4.0"/><circle cx="558.95" cy="738.43" r="4.0"/><circle cx="570.9" cy="747.7" r="4.0"/><circle cx="577.49" cy="749.15" r="4.0"/><circle cx="564.72" cy="755.32" r="4.0"/><circle cx="603.85" cy="752.44" r="4.0"/><circle cx="614.56" cy="745.64" r="4.0"/><circle cx="718.17" cy="761.71" r="4.0"/><circle cx="558.95" cy="772.83" r="4.0"/><circle cx="581.19" cy="772.83" r="4.0"/><circle cx="585.73" cy="771.39" r="4.0"/><circle cx="589.43" cy="772.83" r="4.0"/><circle cx="592.73" cy="769.95" r="4.0"/><circle cx="601.79" cy="772.83" r="4.0"/><circle cx="614.15" cy="772.83" r="4.0"/><circle cx="686.65" cy="769.95" r="4.0"/><circle cx="688.71" cy="772.83" r="4.0"/><circle cx="683.15" cy="772.83" r="4.0"/><circle cx="710.55" cy="772.83" r="4.0"/><circle cx="722.9" cy="772.83" r="4.0"/><circle cx="718.78" cy="769.95" r="4.0"/><circle cx="789.73" cy="633.59" r="4.0"/><circle cx="836.69" cy="634.83" r="4.0"/><circle cx="844.73" cy="625.56" r="4.0"/><circle cx="885.51" cy="620" r="4.0"/><circle cx="898.9" cy="622.06" r="4.0"/><circle cx="901.99" cy="628.65" r="4.0"/><circle cx="888.19" cy="640.8" r="4.0"/><circle cx="894.16" cy="647.81" r="4.0"/><circle cx="904.67" cy="642.66" r="4.0"/><circle cx="908.17" cy="645.13" r="4.0"/><circle cx="851.73" cy="686.74" r="4.0"/><circle cx="865.53" cy="713.31" r="4.0"/><circle cx="897.46" cy="720.93" r="4.0"/><circle cx="872.12" cy="750.38" r="4.0"/><circle cx="751.01" cy="772.83" r="4.0"/><circle cx="786.64" cy="772.83" r="4.0"/><circle cx="815.68" cy="772.83" r="4.0"/><circle cx="880.98" cy="772.83" r="4.0"/><circle cx="903.22" cy="772.83" r="4.0"/><circle cx="907.75" cy="491.42" r="4.0"/><circle cx="903.64" cy="512.84" r="4.0"/><circle cx="789.73" cy="529.94" r="4.0"/><circle cx="907.75" cy="535.71" r="4.0"/><circle cx="903.64" cy="561.45" r="4.0"/><circle cx="737.42" cy="600.79" r="4.0"/><circle cx="733.71" cy="611.09" r="4.0"/><circle cx="858.73" cy="607.59" r="4.0"/><circle cx="864.09" cy="614.59" r="4.0"/><circle cx="638.46" cy="566.81" r="4.0"/><circle cx="644.02" cy="618.51" r="4.0"/><circle cx="713.02" cy="582.26" r="4.0"/></g>
<g fill="#1756bf"><circle cx="558.95" cy="672.11" r="4.0"/><circle cx="592.52" cy="690.44" r="4.0"/><circle cx="603.44" cy="692.5" r="4.0"/><circle cx="609" cy="695.59" r="4.0"/><circle cx="614.56" cy="685.5" r="4.0"/><circle cx="659.46" cy="691.88" r="4.0"/><circle cx="733.2" cy="649.45" r="4.0"/><circle cx="558.95" cy="705.48" r="4.0"/><circle cx="570.48" cy="710.01" r="4.0"/><circle cx="562.25" cy="716.81" r="4.0"/><circle cx="558.95" cy="722.37" r="4.0"/><circle cx="558.95" cy="726.49" r="4.0"/><circle cx="570.48" cy="722.37" r="4.0"/><circle cx="586.96" cy="732.26" r="4.0"/><circle cx="581.19" cy="740.49" r="4.0"/><circle cx="590.46" cy="747.7" r="4.0"/><circle cx="614.15" cy="742.35" r="4.0"/><circle cx="644.02" cy="745.44" r="4.0"/><circle cx="636.4" cy="752.44" r="4.0"/><circle cx="638.46" cy="755.74" r="4.0"/><circle cx="601.38" cy="756.97" r="4.0"/><circle cx="572.96" cy="754.29" r="4.0"/><circle cx="586.34" cy="756.97" r="4.0"/><circle cx="589.02" cy="762.74" r="4.0"/><circle cx="558.95" cy="744.61" r="4.0"/><circle cx="558.95" cy="749.35" r="4.0"/><circle cx="558.95" cy="755.94" r="4.0"/><circle cx="558.95" cy="763.15" r="4.0"/><circle cx="558.95" cy="768.3" r="4.0"/><circle cx="558.95" cy="772.83" r="4.0"/><circle cx="564.72" cy="772.83" r="4.0"/><circle cx="568.84" cy="772.83" r="4.0"/><circle cx="568.84" cy="769.33" r="4.0"/><circle cx="562.66" cy="770.36" r="4.0"/><circle cx="577.49" cy="772.83" r="4.0"/><circle cx="607.56" cy="772.83" r="4.0"/><circle cx="620.33" cy="772.83" r="4.0"/><circle cx="686.65" cy="772.83" r="4.0"/><circle cx="681.71" cy="735.76" r="4.0"/><circle cx="685.62" cy="749.76" r="4.0"/><circle cx="689.12" cy="760.68" r="4.0"/><circle cx="687.89" cy="708.57" r="4.0"/><circle cx="689.54" cy="707.33" r="4.0"/><circle cx="724.96" cy="704.45" r="4.0"/><circle cx="737.32" cy="706.92" r="4.0"/><circle cx="718.37" cy="759.03" r="4.0"/><circle cx="710.55" cy="766.24" r="4.0"/><circle cx="722.49" cy="766.45" r="4.0"/><circle cx="718.37" cy="772.83" r="4.0"/><circle cx="789.73" cy="628.24" r="4.0"/><circle cx="844.73" cy="646.36" r="4.0"/><circle cx="865.53" cy="632.56" r="4.0"/><circle cx="904.05" cy="634.01" r="4.0"/><circle cx="902.19" cy="657.08" r="4.0"/><circle cx="888.19" cy="666.34" r="4.0"/><circle cx="885.3" cy="670.67" r="4.0"/><circle cx="751.01" cy="683.85" r="4.0"/><circle cx="820.63" cy="683.85" r="4.0"/><circle cx="907.75" cy="683.44" r="4.0"/><circle cx="864.09" cy="690.85" r="4.0"/><circle cx="897.87" cy="692.71" r="4.0"/><circle cx="851.73" cy="702.18" r="4.0"/><circle cx="815.68" cy="717.22" r="4.0"/><circle cx="903.02" cy="718.04" r="4.0"/><circle cx="872.12" cy="734.32" r="4.0"/><circle cx="789.73" cy="739.67" r="4.0"/><circle cx="836.69" cy="748.32" r="4.0"/><circle cx="894.16" cy="748.94" r="4.0"/><circle cx="880.98" cy="756.56" r="4.0"/><circle cx="786.64" cy="764.59" r="4.0"/><circle cx="907.75" cy="506.25" r="4.0"/><circle cx="907.75" cy="513.46" r="4.0"/><circle cx="907.75" cy="543.33" r="4.0"/><circle cx="903.64" cy="551.77" r="4.0"/><circle cx="907.75" cy="561.45" r="4.0"/><circle cx="903.02" cy="578.55" r="4.0"/><circle cx="907.75" cy="579.58" r="4.0"/><circle cx="858.73" cy="589.46" r="4.0"/><circle cx="898.9" cy="604.29" r="4.0"/><circle cx="904.87" cy="614.8" r="4.0"/><circle cx="685.21" cy="587.82" r="4.0"/><circle cx="713.02" cy="612.12" r="4.0"/><circle cx="726.61" cy="610.27" r="4.0"/></g>
<line x1="559" y1="772.7" x2="908" y2="491.8" stroke="#1a1a1a" stroke-width="1.2"/>
<rect x="541.5" y="477.7" width="384" height="309" fill="none" stroke="#555555" stroke-width="1"/>
<line x1="541.5" y1="772.7" x2="547.5" y2="772.7" stroke="#555555" stroke-width="1"/>
<line x1="559" y1="786.7" x2="559" y2="780.7" stroke="#555555" stroke-width="1"/>
<text x="535.8" y="777.5" font-size="12.3" text-anchor="end" fill="#1a1a1a" textLength="7.3" lengthAdjust="spacingAndGlyphs">0</text>
<text x="559" y="802.5" font-size="12.3" text-anchor="middle" fill="#1a1a1a" textLength="7.3" lengthAdjust="spacingAndGlyphs">0</text>
<line x1="541.5" y1="744.61" x2="544" y2="744.61" stroke="#555555" stroke-width="1"/>
<line x1="593.9" y1="786.7" x2="593.9" y2="784.2" stroke="#555555" stroke-width="1"/>
<line x1="541.5" y1="716.52" x2="547.5" y2="716.52" stroke="#555555" stroke-width="1"/>
<line x1="628.8" y1="786.7" x2="628.8" y2="780.7" stroke="#555555" stroke-width="1"/>
<text x="535.8" y="721.32" font-size="12.3" text-anchor="end" fill="#1a1a1a" textLength="14.6" lengthAdjust="spacingAndGlyphs">20</text>
<text x="628.8" y="802.5" font-size="12.3" text-anchor="middle" fill="#1a1a1a" textLength="14.6" lengthAdjust="spacingAndGlyphs">20</text>
<line x1="541.5" y1="688.43" x2="544" y2="688.43" stroke="#555555" stroke-width="1"/>
<line x1="663.7" y1="786.7" x2="663.7" y2="784.2" stroke="#555555" stroke-width="1"/>
<line x1="541.5" y1="660.34" x2="547.5" y2="660.34" stroke="#555555" stroke-width="1"/>
<line x1="698.6" y1="786.7" x2="698.6" y2="780.7" stroke="#555555" stroke-width="1"/>
<text x="535.8" y="665.14" font-size="12.3" text-anchor="end" fill="#1a1a1a" textLength="14.6" lengthAdjust="spacingAndGlyphs">40</text>
<text x="698.6" y="802.5" font-size="12.3" text-anchor="middle" fill="#1a1a1a" textLength="14.6" lengthAdjust="spacingAndGlyphs">40</text>
<line x1="541.5" y1="632.25" x2="544" y2="632.25" stroke="#555555" stroke-width="1"/>
<line x1="733.5" y1="786.7" x2="733.5" y2="784.2" stroke="#555555" stroke-width="1"/>
<line x1="541.5" y1="604.16" x2="547.5" y2="604.16" stroke="#555555" stroke-width="1"/>
<line x1="768.4" y1="786.7" x2="768.4" y2="780.7" stroke="#555555" stroke-width="1"/>
<text x="535.8" y="608.96" font-size="12.3" text-anchor="end" fill="#1a1a1a" textLength="14.6" lengthAdjust="spacingAndGlyphs">60</text>
<text x="768.4" y="802.5" font-size="12.3" text-anchor="middle" fill="#1a1a1a" textLength="14.6" lengthAdjust="spacingAndGlyphs">60</text>
<line x1="541.5" y1="576.07" x2="544" y2="576.07" stroke="#555555" stroke-width="1"/>
<line x1="803.3" y1="786.7" x2="803.3" y2="784.2" stroke="#555555" stroke-width="1"/>
<line x1="541.5" y1="547.98" x2="547.5" y2="547.98" stroke="#555555" stroke-width="1"/>
<line x1="838.2" y1="786.7" x2="838.2" y2="780.7" stroke="#555555" stroke-width="1"/>
<text x="535.8" y="552.78" font-size="12.3" text-anchor="end" fill="#1a1a1a" textLength="14.6" lengthAdjust="spacingAndGlyphs">80</text>
<text x="838.2" y="802.5" font-size="12.3" text-anchor="middle" fill="#1a1a1a" textLength="14.6" lengthAdjust="spacingAndGlyphs">80</text>
<line x1="541.5" y1="519.89" x2="544" y2="519.89" stroke="#555555" stroke-width="1"/>
<line x1="873.1" y1="786.7" x2="873.1" y2="784.2" stroke="#555555" stroke-width="1"/>
<line x1="541.5" y1="491.8" x2="547.5" y2="491.8" stroke="#555555" stroke-width="1"/>
<line x1="908" y1="786.7" x2="908" y2="780.7" stroke="#555555" stroke-width="1"/>
<text x="535.8" y="495.7" font-size="12.3" text-anchor="end" fill="#1a1a1a" textLength="21.9" lengthAdjust="spacingAndGlyphs">100</text>
<text x="908" y="802.5" font-size="12.3" text-anchor="middle" fill="#1a1a1a" textLength="21.9" lengthAdjust="spacingAndGlyphs">100</text>
<circle cx="568" cy="493.1" r="4.0" fill="#5a9e70"/>
<text x="577.6" y="497.9" font-size="13.8" text-anchor="start" fill="#1a1a1a" textLength="50.7" lengthAdjust="spacingAndGlyphs">CDPred</text>
<circle cx="568" cy="509.2" r="4.0" fill="#1756bf"/>
<text x="577.6" y="514" font-size="13.8" text-anchor="start" fill="#1a1a1a" textLength="57.5" lengthAdjust="spacingAndGlyphs">GLINTER</text>
<text x="733.4" y="822.9" font-size="14.4" text-anchor="middle" fill="#1a1a1a" textLength="172.8" lengthAdjust="spacingAndGlyphs">Precision of DeepInter (%)</text>
<text x="506.6" y="631.7" font-size="14.4" text-anchor="middle" fill="#1a1a1a" textLength="206.5" lengthAdjust="spacingAndGlyphs" transform="rotate(-90 506.6 631.7)">Precision of other methods (%)</text>
</svg>
</body></html>
